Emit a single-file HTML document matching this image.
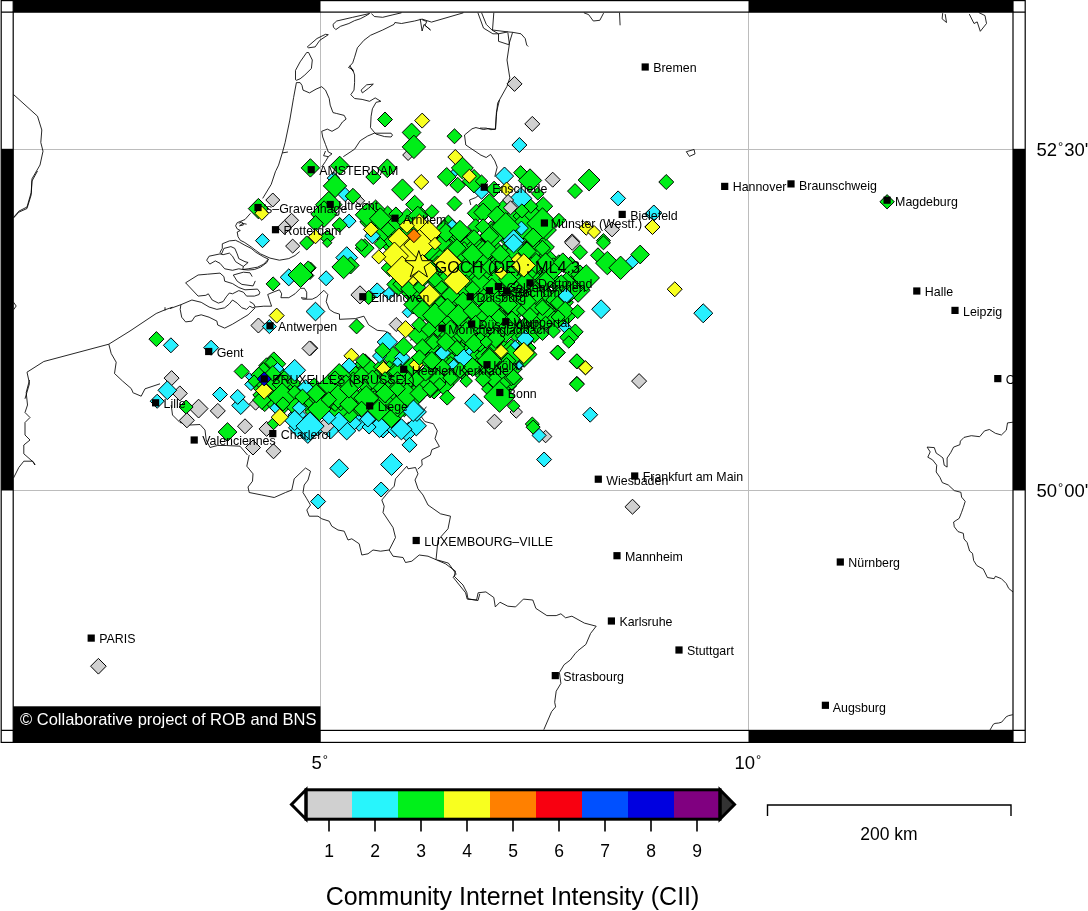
<!DOCTYPE html>
<html><head><meta charset="utf-8"><title>Community Internet Intensity</title>
<style>
html,body{margin:0;padding:0;background:#fff;}
body{width:1088px;height:911px;overflow:hidden;font-family:"Liberation Sans",sans-serif;}
svg{display:block}
text{font-family:"Liberation Sans",sans-serif;fill:#000}
.c{font-size:12.4px}
.b{fill:none;stroke:#000;stroke-width:0.85;stroke-linejoin:round}
.d{stroke:#000;stroke-width:1}
.ax{font-size:18.5px}
</style></head><body>
<svg width="1088" height="911" viewBox="0 0 1088 911">
<rect width="1088" height="911" fill="#fff"/>
<defs><clipPath id="m"><rect x="13.2" y="12.1" width="999.8" height="718.3"/></clipPath></defs>

<g stroke="#bcbcbc" stroke-width="1" fill="none"><path d="M320.5 12V730.4M748.5 12V730.4M13 149.5H1013M13 490.5H1013"/></g>
<g clip-path="url(#m)">
<g class="b">
<path d="M13.5 94.5 37.5 116.2 41.8 130.0 40.8 142.5 43.0 151.2 40.0 165.0 32.0 178.8 31.2 192.5 27.0 207.0 18.8 211.2 13.5 217.5"/>
<path d="M296.4 82.6 293.6 97.6 289.8 120.1 285.1 142.6 282.3 152.9 278.6 165.1 275.8 170.9"/>
<path d="M282.3 152.9 287.9 152.0"/>
<path d="M296.4 82.6 300.1 82.6 302.0 85.4 303.0 90.1 309.5 92.9 316.1 89.1 321.7 86.7 325.5 90.1 329.2 98.5 330.2 105.1 333.0 112.6 336.7 113.5 344.2 115.4 346.1 119.1 342.4 122.0 338.6 127.6 332.0 131.3 327.3 129.1 321.7 131.3 322.7 137.0 325.5 144.5 328.3 152.0 332.0 153.8 328.3 156.7 323.6 155.7 325.5 151.0"/>
<path d="M328.3 156.7 325.5 161.4 321.7 167.0"/>
<path d="M343.3 156.7 354.6 149.2 360.2 140.7 367.7 136.0 374.3 133.2 391.1 133.2 392.5 135.1 391.1 137.0 384.6 136.6 376.1 134.1 374.3 132.3 370.5 127.6 371.1 116.3 372.4 108.8 376.1 102.3 380.8 101.3 375.2 97.9 369.6 101.3 362.1 99.4 354.6 98.5 350.8 94.7 354.0 90.1 354.6 82.6 354.6 75.0 352.7 69.4 348.5 67.5 352.7 62.9 354.6 57.2 357.4 47.8 363.9 40.3 370.5 35.3 382.7 30.0 394.0 24.4 394.9 22.5 401.5 23.5 414.6 21.0 422.1 19.1 431.5 22.1 463.4 12.8"/>
<path d="M420.2 18.8 422.1 31.0 424.0 24.4 430.5 30.0 424.9 25.3 426.8 21.6 422.1 19.7"/>
<path d="M349.9 65.7 353.1 71.3 350.8 67.9"/>
<path d="M361.1 90.1 366.7 84.8 373.3 84.1 368.6 88.2 362.4 92.9Z"/>
<path d="M295.5 79.7 295.5 70.4 300.1 61.9 306.7 52.5 308.6 52.5 312.3 60.0 311.4 68.5 304.8 75.0 300.1 78.8 296.4 80.3Z"/>
<path d="M307.3 46.9 317.0 38.5 325.5 34.3 328.3 34.7 319.8 40.3 315.2 46.9 308.6 47.8Z"/>
<path d="M333.0 24.4 336.7 21.0 352.7 17.3 369.6 13.5 365.8 15.9 360.2 18.8 354.6 20.6 348.9 23.5 340.5 26.3 335.8 29.6 333.5 27.2Z"/>
<path d="M371.4 13.5 374.3 16.5 382.7 17.3 392.1 15.0 401.5 12.8"/>
<path d="M477.9 12.8 483.5 28.1 492.9 33.8 498.5 33.8 507.9 31.9 512.6 32.3 521.0 33.8 525.2 38.5 526.7 45.0 528.2 46.5"/>
<path d="M481.6 12.8 486.3 24.4 491.9 30.0 498.5 33.8"/>
<path d="M493.8 12.8 492.5 30.0 507.9 31.9"/>
<path d="M498.5 33.8 498.5 41.3 508.8 44.7 512.6 32.3"/>
<path d="M507.9 32.8 509.4 44.1 507.0 60.0 509.8 77.9 507.0 86.3 497.6 103.2 496.3 116.3 495.3 129.5 489.1 128.5 483.5 129.5 476.0 127.6"/>
<path d="M583.9 12.8 588.6 14.6 593.3 21.0 599.8 20.3 603.6 13.1"/>
<path d="M619.5 12.8 620.1 25.3"/>
<path d="M686.3 151.7 694.1 149.5 695.0 153.9 689.4 156.4Z"/>
<path d="M942.7 13.1 942.1 18.8 946.5 22.5 945.2 14.1"/>
<path d="M969.3 14.1 974.0 23.5 977.2 21.9 980.3 31.3 986.5 23.5 985.0 15.6 978.7 12.5"/>
<path d="M37.5 171.0 32.0 181.0 31.2 194.8 27.0 208.5 18.8 212.2 13.5 218.0"/>
<path d="M13.5 302.2 16.2 306.0 13.5 309.8"/>
<path d="M25.0 398.8 29.5 383.5 27.0 372.2 43.8 361.5 108.8 344.2 130.0 331.0 156.2 313.5 165.0 309.8 172.5 307.2"/>
<path d="M165.0 307.2 165.0 310.5"/>
<path d="M108.8 344.2 111.2 353.5 116.2 362.2 114.5 373.5 122.5 381.0 131.2 388.5 132.8 392.0"/>
<path d="M250.5 213.3 245.0 219.5 241.1 221.1 237.2 222.7 235.6 225.8 237.2 228.9 240.3 230.5 237.2 232.0 238.0 236.7 240.3 240.3 244.2 242.2 251.2 246.9 255.2 250.0 260.6 253.9 270.0 258.1 279.4 260.2 288.8 258.6 295.0 255.5 299.7 251.6"/>
<path d="M238.8 223.4 241.9 221.9 243.4 225.0 239.5 225.8 242.7 223.4 246.6 224.2"/>
<path d="M268.4 259.1 263.8 257.0 255.9 252.3 251.2 248.4 245.0 245.3 239.5 242.2 235.6 240.3 229.4 240.9 222.3 243.8 222.3 248.4 220.0 252.3 221.6 253.9 223.9 248.4 230.9 246.6 234.8 248.4 237.2 253.9 238.8 258.6 245.0 261.7 248.1 262.5 243.4 266.4 242.7 269.5 248.1 268.8 257.5 267.2 263.8 264.1 268.4 259.1 266.9 262.5 260.6 267.2 254.4 269.5 248.1 270.0 242.7 269.5"/>
<path d="M243.4 266.4 241.9 265.6 235.6 261.7 232.5 256.2 229.4 253.1 223.1 254.7 220.0 253.9 209.1 256.2 206.7 260.2 209.8 264.1 215.3 260.9 220.0 263.3 224.7 268.8 232.5 270.3 238.8 268.8 242.7 269.5"/>
<path d="M252.2 276.6 250.0 272.8 243.4 272.2 233.3 275.0 237.2 281.2 241.9 284.4 253.1 285.9 255.3 280.9"/>
<path d="M185.6 282.8 198.1 275.0 207.5 274.2 220.0 273.1 223.9 276.6 224.7 281.2 232.5 283.6 238.8 287.5 245.0 289.8 257.5 289.1 259.8 292.2 259.1 294.5 254.4 296.1 246.6 296.1 243.4 292.2 238.8 290.6 232.5 293.8 229.4 293.0 226.2 296.9 223.1 301.6 218.4 303.1 212.2 300.0 208.3 293.8 205.9 295.3 198.1 296.1Z"/>
<path d="M170.0 308.6 180.9 304.7 191.9 300.0 201.2 302.3 209.1 307.0 216.9 309.4 224.7 307.8 229.4 303.9 232.5 300.0 237.2 303.1 241.9 307.8 246.6 309.4 249.7 306.2 252.8 307.8 255.2 307.0 253.6 303.9 249.7 301.6"/>
<path d="M180.9 304.7 180.2 309.4 181.7 317.2 185.6 321.9 191.9 321.1 195.0 316.4 201.2 314.8 209.1 317.2 216.9 321.1 217.7 325.0 224.7 328.1 232.5 324.2 240.3 319.5 248.1 314.8 255.2 307.8"/>
<path d="M255.2 307.0 263.8 306.2 271.6 306.2 270.0 301.6 267.7 294.5 273.1 292.2 279.4 289.8 281.7 293.8 280.9 297.7 288.8 297.7 295.0 293.8 300.5 288.3 304.4 288.3 306.7 292.2 306.7 298.4 301.2 297.7 302.8 299.2 312.2 299.2 316.9 296.9 323.9 290.3 327.8 294.5 326.2 301.6 329.4 309.4 334.1 312.5 339.5 314.1 339.5 319.5"/>
<path d="M275.6 171.1 271.2 184.4 262.7 198.4"/>
<path d="M499.5 100.0 496.4 112.5 495.6 128.9 490.9 129.7 486.2 128.1 480.0 128.1"/>
<path d="M480.0 154.7 486.2 157.5 490.6 154.4 494.8 160.9 497.2 167.2 494.8 176.6"/>
<path d="M426.4 406.7 420.2 415.2 424.8 421.5 433.4 423.8 437.3 430.9 435.0 438.7 439.4 446.5 431.9 449.6 430.3 455.1 421.7 459.8 422.2 465.2 417.8 469.2"/>
<path d="M249.2 455.0 246.8 466.2 253.0 473.8 252.5 481.2 248.0 487.0 249.2 492.5 261.8 495.0 274.2 497.5 285.5 492.5 291.8 490.0 294.2 478.8 305.5 468.0 310.5 471.2 308.0 480.0 304.2 485.0 303.0 492.5 306.8 498.8 310.5 505.0 306.8 510.0 309.2 516.2 318.0 516.2 321.8 518.8 329.2 521.2 331.8 526.2 338.0 530.0 344.2 531.2 348.0 540.0 351.8 538.8 359.2 543.8 361.8 555.0 368.0 553.8 373.0 550.0 380.5 551.2 389.2 550.0 393.0 556.2 403.0 557.5 405.5 562.5 411.8 561.2 419.2 555.0 428.0 556.2 436.8 560.0 445.5 563.8 455.5 571.2 454.2 576.2 463.0 585.0 466.8 592.5 468.0 598.8 478.0 600.5 479.8 593.8"/>
<path d="M389.2 550.0 395.5 537.5 393.0 527.5 388.0 520.0 383.0 512.5 384.2 506.2 381.8 500.0 388.0 492.5 394.2 486.2 395.5 478.8 406.8 466.2 408.0 468.8 415.5 467.5 418.0 473.8 415.0 480.0 418.0 488.8 423.0 495.0 428.0 505.0 440.5 513.8 450.5 516.2 448.0 528.8 438.0 540.0 436.0 560.0"/>
<path d="M29.5 380.0 26.2 392.5 27.5 405.0 25.0 412.5 30.0 417.5 25.0 422.5 25.0 435.0 30.0 440.0 23.8 445.0 23.8 453.8 33.8 462.5 35.0 465.0 32.5 461.2 23.8 461.2 18.8 467.5 13.5 478.0"/>
<path d="M132.5 392.5 141.2 396.2 145.0 388.8 160.0 383.8"/>
<path d="M171.2 405.0 172.5 415.0 180.0 422.5 190.0 425.0 200.0 424.5 205.0 430.0 206.2 440.0 210.0 447.5 217.5 445.5 226.2 445.5 240.0 446.2 247.5 455.0"/>
<path d="M476.6 600.0 478.1 592.8 485.9 591.9 493.8 597.5 495.3 606.9 500.0 602.2 507.8 606.2 515.6 606.9 523.4 599.1 532.8 600.0 535.9 608.4 546.9 615.6 556.2 615.6 560.9 613.8 565.6 617.8 571.9 616.2 584.4 623.1 596.2 626.2 590.6 633.4 585.9 644.4 578.1 650.6 575.0 653.8 570.3 660.0 564.1 664.7 559.4 672.5 560.9 683.4 556.2 691.2 554.7 702.2 555.6 706.9 551.6 711.6 543.8 729.7"/>
<path d="M437.5 560.0 448.4 563.1 456.2 574.1 453.1 577.2 465.6 592.8 467.2 599.1 476.6 600.0"/>
<path d="M1013.0 422.2 1007.5 422.9 1006.3 430.2 1001.4 435.0 995.4 433.3 989.4 429.5 984.5 430.9 979.7 436.7 971.3 435.7 964.0 437.4 960.4 441.1 959.9 444.7 953.6 447.1 950.7 452.7 947.1 458.0 947.1 467.1 944.2 465.2 943.0 458.0 939.9 455.6 936.2 453.1 934.3 447.6 927.1 447.1 930.2 451.9 927.8 457.2 932.6 459.9 936.7 465.2 936.2 472.0 939.9 477.3 942.3 482.6 948.3 485.0 954.3 490.6 960.9 492.3 961.6 497.1 965.2 501.4 963.3 507.5 961.6 512.3 959.2 518.4 953.6 522.0 954.3 526.8 958.0 531.6 963.3 533.3 964.0 538.9 967.1 542.5 969.6 551.0 972.5 553.4 973.7 560.6 976.8 565.5 983.3 569.1 987.4 577.5 994.2 578.7 995.4 576.3 1001.4 578.7 1006.3 583.6 1008.7 588.4 1013.0 592.0"/>
<path d="M990.0 730.0 991.7 727.1 993.3 724.3 995.0 723.4 998.7 723.0 1001.6 722.2 1004.1 719.3 1006.2 716.8 1008.7 715.6 1012.8 714.7"/>
<path d="M476.0 127.5 472.0 128.8 464.5 135.0 465.8 145.0 480.0 154.5"/>
<path d="M482.0 192.5 475.8 197.5 469.5 200.0 470.8 205.0"/>
<path d="M339.7 319.3 355.3 318.6 363.9 316.2 368.6 324.8 377.2 330.3 385.0 331.1 391.2 334.2"/>
<path d="M410.0 340.4 419.4 335.4 422.5 338.9"/>
<path d="M394.4 349.8 396.7 355.3"/>
</g>
<g class="d">
<path fill="#28f0ff" d="M351.4 423.6L359.1 416.0L366.8 423.6L359.1 431.3Z"/>
<path fill="#28f0ff" d="M375.3 430.3L383.0 422.5L390.8 430.3L383.0 438.0Z"/>
<path fill="#28f0ff" d="M367.1 423.7L375.4 415.5L383.6 423.7L375.4 432.0Z"/>
<path fill="#28f0ff" d="M300.3 435.9L307.8 428.4L315.3 435.9L307.8 443.4Z"/>
<path fill="#28f0ff" d="M334.2 425.1L342.8 416.4L351.5 425.1L342.8 433.8Z"/>
<path fill="#28f0ff" d="M320.3 428.3L330.8 417.8L341.3 428.3L330.8 438.8Z"/>
<path fill="#28f0ff" d="M400.5 430.2L408.8 421.9L417.1 430.2L408.8 438.5Z"/>
<path fill="#28f0ff" d="M345.4 417.8L353.6 409.5L361.8 417.8L353.6 426.0Z"/>
<path fill="#28f0ff" d="M310.1 428.4L317.8 420.8L325.5 428.4L317.8 436.1Z"/>
<path fill="#28f0ff" d="M384.4 427.4L394.6 417.3L404.7 427.4L394.6 437.6Z"/>
<path fill="#28f0ff" d="M406.1 425.8L416.3 415.6L426.4 425.8L416.3 435.9Z"/>
<path fill="#28f0ff" d="M332.4 415.6L340.8 407.2L349.2 415.6L340.8 424.0Z"/>
<path fill="#28f0ff" d="M399.5 434.1L407.2 426.4L414.9 434.1L407.2 441.8Z"/>
<path fill="#28f0ff" d="M343.6 422.8L352.5 413.9L361.4 422.8L352.5 431.7Z"/>
<path fill="#28f0ff" d="M296.3 430.0L306.6 419.7L316.9 430.0L306.6 440.3Z"/>
<path fill="#28f0ff" d="M407.4 411.9L416.9 402.4L426.4 411.9L416.9 421.4Z"/>
<path fill="#28f0ff" d="M288.5 427.8L297.7 418.6L307.0 427.8L297.7 437.1Z"/>
<path fill="#28f0ff" d="M288.1 414.9L297.2 405.7L306.4 414.9L297.2 424.0Z"/>
<path fill="#00ee18" d="M284.5 384.4L293.4 375.6L302.2 384.4L293.4 393.3Z"/>
<path fill="#00ee18" d="M317.2 396.0L325.3 387.8L333.5 396.0L325.3 404.1Z"/>
<path fill="#00ee18" d="M352.5 396.4L361.6 387.3L370.6 396.4L361.6 405.5Z"/>
<path fill="#00ee18" d="M328.4 392.4L340.1 380.7L351.8 392.4L340.1 404.2Z"/>
<path fill="#00ee18" d="M261.5 397.4L270.2 388.7L279.0 397.4L270.2 406.1Z"/>
<path fill="#00ee18" d="M342.1 403.0L353.2 391.9L364.4 403.0L353.2 414.1Z"/>
<path fill="#00ee18" d="M348.7 372.1L359.2 361.7L369.7 372.1L359.2 382.6Z"/>
<path fill="#00ee18" d="M400.5 398.1L412.4 386.2L424.2 398.1L412.4 410.0Z"/>
<path fill="#00ee18" d="M372.7 414.8L384.0 403.6L395.2 414.8L384.0 426.0Z"/>
<path fill="#00ee18" d="M254.2 401.1L264.7 390.6L275.2 401.1L264.7 411.6Z"/>
<path fill="#00ee18" d="M354.6 364.5L365.1 353.9L375.7 364.5L365.1 375.0Z"/>
<path fill="#00ee18" d="M340.1 413.1L350.0 403.3L359.8 413.1L350.0 422.9Z"/>
<path fill="#00ee18" d="M392.1 364.7L402.7 354.1L413.3 364.7L402.7 375.3Z"/>
<path fill="#00ee18" d="M278.3 393.1L288.7 382.7L299.1 393.1L288.7 403.5Z"/>
<path fill="#00ee18" d="M272.7 377.1L282.0 367.8L291.3 377.1L282.0 386.4Z"/>
<path fill="#00ee18" d="M298.4 399.0L308.1 389.3L317.8 399.0L308.1 408.6Z"/>
<path fill="#00ee18" d="M344.2 395.2L353.0 386.4L361.9 395.2L353.0 404.1Z"/>
<path fill="#00ee18" d="M411.4 388.2L420.2 379.5L428.9 388.2L420.2 397.0Z"/>
<path fill="#00ee18" d="M381.9 357.3L392.9 346.3L403.9 357.3L392.9 368.3Z"/>
<path fill="#00ee18" d="M392.6 396.2L403.3 385.6L413.9 396.2L403.3 406.8Z"/>
<path fill="#00ee18" d="M419.6 373.2L429.6 363.2L439.6 373.2L429.6 383.3Z"/>
<path fill="#00ee18" d="M358.2 371.5L369.0 360.8L379.7 371.5L369.0 382.2Z"/>
<path fill="#00ee18" d="M411.5 392.7L420.5 383.8L429.4 392.7L420.5 401.6Z"/>
<path fill="#00ee18" d="M326.1 378.0L334.6 369.5L343.1 378.0L334.6 386.5Z"/>
<path fill="#00ee18" d="M253.3 388.4L265.0 376.7L276.7 388.4L265.0 400.1Z"/>
<path fill="#00ee18" d="M357.8 368.6L368.7 357.7L379.6 368.6L368.7 379.5Z"/>
<path fill="#00ee18" d="M361.4 381.7L370.9 372.3L380.3 381.7L370.9 391.2Z"/>
<path fill="#00ee18" d="M363.5 404.2L372.7 395.0L381.9 404.2L372.7 413.4Z"/>
<path fill="#00ee18" d="M410.2 378.8L420.6 368.4L431.0 378.8L420.6 389.2Z"/>
<path fill="#00ee18" d="M303.6 388.5L314.2 377.9L324.8 388.5L314.2 399.1Z"/>
<path fill="#00ee18" d="M382.3 393.0L392.1 383.2L401.9 393.0L392.1 402.8Z"/>
<path fill="#00ee18" d="M250.3 378.9L259.1 370.1L267.9 378.9L259.1 387.7Z"/>
<path fill="#00ee18" d="M265.4 382.6L275.1 372.8L284.9 382.6L275.1 392.4Z"/>
<path fill="#00ee18" d="M371.1 374.9L382.2 363.8L393.4 374.9L382.2 386.0Z"/>
<path fill="#00ee18" d="M298.7 403.9L308.0 394.6L317.3 403.9L308.0 413.2Z"/>
<path fill="#00ee18" d="M266.1 371.2L275.0 362.4L283.8 371.2L275.0 380.1Z"/>
<path fill="#00ee18" d="M366.2 395.0L378.1 383.1L390.1 395.0L378.1 407.0Z"/>
<path fill="#00ee18" d="M422.6 387.6L434.0 376.2L445.4 387.6L434.0 399.0Z"/>
<path fill="#00ee18" d="M393.2 405.8L404.3 394.7L415.3 405.8L404.3 416.8Z"/>
<path fill="#00ee18" d="M277.1 393.2L285.2 385.1L293.2 393.2L285.2 401.2Z"/>
<path fill="#00ee18" d="M343.1 375.9L354.2 364.8L365.3 375.9L354.2 387.0Z"/>
<path fill="#00ee18" d="M272.1 384.1L281.3 374.9L290.6 384.1L281.3 393.4Z"/>
<path fill="#00ee18" d="M328.3 411.2L338.4 401.0L348.5 411.2L338.4 421.3Z"/>
<path fill="#00ee18" d="M330.1 388.1L338.8 379.4L347.4 388.1L338.8 396.7Z"/>
<path fill="#00ee18" d="M365.1 411.7L375.2 401.6L385.3 411.7L375.2 421.8Z"/>
<path fill="#00ee18" d="M373.4 366.9L381.7 358.6L390.0 366.9L381.7 375.3Z"/>
<path fill="#00ee18" d="M266.8 404.4L275.0 396.2L283.3 404.4L275.0 412.7Z"/>
<path fill="#00ee18" d="M289.3 402.5L298.4 393.4L307.4 402.5L298.4 411.6Z"/>
<path fill="#00ee18" d="M305.0 411.7L313.1 403.5L321.3 411.7L313.1 419.8Z"/>
<path fill="#00ee18" d="M356.3 384.2L366.0 374.5L375.6 384.2L366.0 393.9Z"/>
<path fill="#00ee18" d="M381.2 368.9L389.3 360.8L397.4 368.9L389.3 377.1Z"/>
<path fill="#00ee18" d="M400.0 378.2L408.2 369.9L416.5 378.2L408.2 386.4Z"/>
<path fill="#00ee18" d="M350.2 407.5L358.7 399.0L367.3 407.5L358.7 416.1Z"/>
<path fill="#00ee18" d="M401.5 388.0L409.8 379.7L418.2 388.0L409.8 396.3Z"/>
<path fill="#00ee18" d="M383.3 402.2L394.8 390.7L406.4 402.2L394.8 413.8Z"/>
<path fill="#00ee18" d="M366.3 399.0L374.4 390.8L382.6 399.0L374.4 407.1Z"/>
<path fill="#00ee18" d="M273.3 404.0L283.3 394.0L293.3 404.0L283.3 414.1Z"/>
<path fill="#00ee18" d="M285.0 405.8L295.8 395.0L306.5 405.8L295.8 416.6Z"/>
<path fill="#00ee18" d="M342.5 382.8L353.3 372.0L364.2 382.8L353.3 393.6Z"/>
<path fill="#00ee18" d="M331.6 401.7L340.7 392.6L349.8 401.7L340.7 410.8Z"/>
<path fill="#00ee18" d="M381.9 385.1L391.1 376.0L400.3 385.1L391.1 394.3Z"/>
<path fill="#00ee18" d="M321.8 398.5L333.7 386.6L345.6 398.5L333.7 410.4Z"/>
<path fill="#00ee18" d="M383.7 412.9L394.8 401.9L405.8 412.9L394.8 423.9Z"/>
<path fill="#00ee18" d="M371.2 401.7L383.0 389.8L394.9 401.7L383.0 413.5Z"/>
<path fill="#00ee18" d="M318.1 384.7L329.1 373.8L340.1 384.7L329.1 395.7Z"/>
<path fill="#00ee18" d="M327.7 375.1L339.2 363.6L350.7 375.1L339.2 386.6Z"/>
<path fill="#00ee18" d="M394.0 381.9L405.7 370.2L417.4 381.9L405.7 393.6Z"/>
<path fill="#00ee18" d="M326.3 402.7L335.1 394.0L343.8 402.7L335.1 411.5Z"/>
<path fill="#00ee18" d="M403.0 365.8L412.9 355.9L422.8 365.8L412.9 375.7Z"/>
<path fill="#00ee18" d="M317.7 403.6L325.9 395.5L334.0 403.6L325.9 411.7Z"/>
<path fill="#00ee18" d="M261.9 363.8L273.8 351.9L285.7 363.8L273.8 375.7Z"/>
<path fill="#00ee18" d="M386.3 371.5L395.1 362.7L403.8 371.5L395.1 380.2Z"/>
<path fill="#00ee18" d="M252.8 395.0L262.1 385.6L271.4 395.0L262.1 404.3Z"/>
<path fill="#00ee18" d="M369.9 384.7L380.7 373.9L391.5 384.7L380.7 395.5Z"/>
<path fill="#00ee18" d="M291.3 393.1L299.8 384.6L308.3 393.1L299.8 401.6Z"/>
<path fill="#00ee18" d="M388.5 371.8L398.3 362.0L408.1 371.8L398.3 381.6Z"/>
<path fill="#00ee18" d="M433.5 384.9L443.9 374.6L454.2 384.9L443.9 395.3Z"/>
<path fill="#00ee18" d="M472.3 243.2L485.0 230.5L497.6 243.2L485.0 255.9Z"/>
<path fill="#00ee18" d="M463.3 319.4L474.5 308.2L485.6 319.4L474.5 330.5Z"/>
<path fill="#00ee18" d="M527.8 273.9L536.7 265.0L545.6 273.9L536.7 282.8Z"/>
<path fill="#00ee18" d="M417.5 236.7L427.9 226.3L438.3 236.7L427.9 247.1Z"/>
<path fill="#00ee18" d="M544.5 280.4L553.4 271.5L562.3 280.4L553.4 289.3Z"/>
<path fill="#00ee18" d="M469.8 289.5L480.5 278.7L491.3 289.5L480.5 300.3Z"/>
<path fill="#00ee18" d="M441.0 293.7L450.2 284.4L459.5 293.7L450.2 302.9Z"/>
<path fill="#00ee18" d="M539.4 259.6L549.1 249.9L558.7 259.6L549.1 269.2Z"/>
<path fill="#00ee18" d="M505.8 288.7L517.8 276.7L529.9 288.7L517.8 300.7Z"/>
<path fill="#00ee18" d="M388.2 272.0L397.5 262.7L406.9 272.0L397.5 281.3Z"/>
<path fill="#00ee18" d="M512.0 348.1L524.0 336.0L536.1 348.1L524.0 360.1Z"/>
<path fill="#00ee18" d="M459.1 242.3L471.6 229.9L484.1 242.3L471.6 254.8Z"/>
<path fill="#00ee18" d="M491.6 385.9L504.1 373.3L516.6 385.9L504.1 398.4Z"/>
<path fill="#00ee18" d="M494.6 253.1L503.9 243.8L513.3 253.1L503.9 262.4Z"/>
<path fill="#00ee18" d="M456.9 291.5L469.5 278.9L482.1 291.5L469.5 304.2Z"/>
<path fill="#00ee18" d="M471.8 372.2L480.9 363.0L490.0 372.2L480.9 381.3Z"/>
<path fill="#00ee18" d="M448.8 300.8L457.8 291.8L466.8 300.8L457.8 309.8Z"/>
<path fill="#00ee18" d="M470.9 257.7L483.1 245.6L495.2 257.7L483.1 269.9Z"/>
<path fill="#00ee18" d="M493.2 280.4L504.7 268.9L516.2 280.4L504.7 291.8Z"/>
<path fill="#00ee18" d="M476.1 364.1L485.5 354.6L495.0 364.1L485.5 373.5Z"/>
<path fill="#00ee18" d="M393.0 245.8L405.6 233.2L418.2 245.8L405.6 258.5Z"/>
<path fill="#00ee18" d="M492.4 312.0L504.5 299.9L516.5 312.0L504.5 324.0Z"/>
<path fill="#00ee18" d="M460.2 299.7L471.3 288.6L482.4 299.7L471.3 310.8Z"/>
<path fill="#00ee18" d="M486.7 314.3L496.4 304.6L506.1 314.3L496.4 324.0Z"/>
<path fill="#00ee18" d="M460.5 310.3L469.2 301.6L477.9 310.3L469.2 318.9Z"/>
<path fill="#00ee18" d="M530.6 247.0L542.5 235.1L554.4 247.0L542.5 258.8Z"/>
<path fill="#00ee18" d="M503.3 310.5L514.7 299.1L526.1 310.5L514.7 321.9Z"/>
<path fill="#00ee18" d="M454.3 277.1L465.3 266.1L476.4 277.1L465.3 288.2Z"/>
<path fill="#00ee18" d="M405.4 251.6L418.0 239.0L430.5 251.6L418.0 264.1Z"/>
<path fill="#00ee18" d="M490.6 356.0L503.2 343.3L515.9 356.0L503.2 368.7Z"/>
<path fill="#00ee18" d="M424.7 378.3L437.3 365.7L449.9 378.3L437.3 390.8Z"/>
<path fill="#00ee18" d="M487.8 331.7L497.2 322.2L506.7 331.7L497.2 341.1Z"/>
<path fill="#00ee18" d="M545.1 315.7L555.0 305.7L565.0 315.7L555.0 325.7Z"/>
<path fill="#00ee18" d="M566.8 277.5L578.6 265.7L590.4 277.5L578.6 289.3Z"/>
<path fill="#00ee18" d="M537.7 294.7L546.7 285.7L555.6 294.7L546.7 303.7Z"/>
<path fill="#00ee18" d="M439.4 257.9L449.0 248.3L458.6 257.9L449.0 267.5Z"/>
<path fill="#00ee18" d="M434.6 295.1L443.4 286.3L452.2 295.1L443.4 303.9Z"/>
<path fill="#00ee18" d="M502.1 368.9L512.2 358.8L522.3 368.9L512.2 379.0Z"/>
<path fill="#00ee18" d="M503.6 330.0L515.6 317.9L527.7 330.0L515.6 342.0Z"/>
<path fill="#00ee18" d="M566.2 290.3L578.1 278.4L590.1 290.3L578.1 302.3Z"/>
<path fill="#00ee18" d="M516.6 325.6L527.9 314.3L539.3 325.6L527.9 337.0Z"/>
<path fill="#00ee18" d="M484.4 319.4L496.8 306.9L509.2 319.4L496.8 331.8Z"/>
<path fill="#00ee18" d="M472.4 299.5L483.7 288.2L495.1 299.5L483.7 310.8Z"/>
<path fill="#00ee18" d="M485.8 264.1L494.8 255.2L503.7 264.1L494.8 273.1Z"/>
<path fill="#00ee18" d="M559.9 267.2L570.6 256.5L581.3 267.2L570.6 277.9Z"/>
<path fill="#00ee18" d="M512.5 234.8L522.2 225.1L532.0 234.8L522.2 244.6Z"/>
<path fill="#00ee18" d="M430.3 247.5L442.0 235.8L453.7 247.5L442.0 259.2Z"/>
<path fill="#00ee18" d="M392.9 251.7L401.6 243.1L410.3 251.7L401.6 260.4Z"/>
<path fill="#00ee18" d="M489.6 348.0L501.4 336.2L513.2 348.0L501.4 359.8Z"/>
<path fill="#00ee18" d="M503.6 305.1L515.7 293.1L527.7 305.1L515.7 317.1Z"/>
<path fill="#00ee18" d="M527.2 283.4L537.7 272.8L548.3 283.4L537.7 293.9Z"/>
<path fill="#00ee18" d="M508.2 256.1L518.0 246.3L527.8 256.1L518.0 266.0Z"/>
<path fill="#00ee18" d="M508.9 257.4L521.8 244.5L534.7 257.4L521.8 270.3Z"/>
<path fill="#00ee18" d="M494.6 235.1L506.1 223.6L517.6 235.1L506.1 246.6Z"/>
<path fill="#00ee18" d="M449.9 341.4L459.8 331.6L469.7 341.4L459.8 351.3Z"/>
<path fill="#00ee18" d="M417.5 262.9L427.3 253.0L437.1 262.9L427.3 272.7Z"/>
<path fill="#00ee18" d="M515.6 300.0L524.2 291.5L532.7 300.0L524.2 308.6Z"/>
<path fill="#00ee18" d="M407.5 242.8L418.3 232.1L429.0 242.8L418.3 253.5Z"/>
<path fill="#00ee18" d="M482.1 247.4L492.5 237.0L503.0 247.4L492.5 257.8Z"/>
<path fill="#00ee18" d="M440.9 268.7L450.7 258.8L460.6 268.7L450.7 278.6Z"/>
<path fill="#00ee18" d="M535.6 230.0L546.0 219.6L556.4 230.0L546.0 240.4Z"/>
<path fill="#00ee18" d="M552.8 302.3L563.2 291.9L573.5 302.3L563.2 312.6Z"/>
<path fill="#00ee18" d="M517.3 250.4L527.3 240.4L537.3 250.4L527.3 260.4Z"/>
<path fill="#00ee18" d="M489.5 228.2L502.3 215.4L515.1 228.2L502.3 241.0Z"/>
<path fill="#00ee18" d="M492.9 299.1L501.8 290.1L510.8 299.1L501.8 308.0Z"/>
<path fill="#00ee18" d="M401.8 230.4L413.2 218.9L424.6 230.4L413.2 241.8Z"/>
<path fill="#00ee18" d="M462.4 277.1L474.7 264.8L486.9 277.1L474.7 289.4Z"/>
<path fill="#00ee18" d="M411.4 266.8L420.4 257.9L429.4 266.8L420.4 275.8Z"/>
<path fill="#00ee18" d="M418.1 352.2L429.8 340.5L441.6 352.2L429.8 364.0Z"/>
<path fill="#00ee18" d="M391.2 259.6L400.8 250.0L410.3 259.6L400.8 269.1Z"/>
<path fill="#00ee18" d="M521.9 310.5L531.4 300.9L541.0 310.5L531.4 320.0Z"/>
<path fill="#00ee18" d="M381.5 245.6L391.8 235.2L402.2 245.6L391.8 255.9Z"/>
<path fill="#00ee18" d="M486.9 268.0L495.4 259.5L503.9 268.0L495.4 276.5Z"/>
<path fill="#00ee18" d="M448.0 263.2L459.1 252.1L470.2 263.2L459.1 274.3Z"/>
<path fill="#00ee18" d="M454.6 371.4L463.1 362.9L471.7 371.4L463.1 380.0Z"/>
<path fill="#00ee18" d="M436.1 335.7L449.0 322.8L461.9 335.7L449.0 348.6Z"/>
<path fill="#00ee18" d="M434.8 314.3L443.4 305.8L451.9 314.3L443.4 322.8Z"/>
<path fill="#00ee18" d="M466.7 365.2L476.2 355.7L485.7 365.2L476.2 374.7Z"/>
<path fill="#00ee18" d="M472.0 336.3L481.7 326.6L491.4 336.3L481.7 346.0Z"/>
<path fill="#00ee18" d="M429.4 346.3L440.5 335.2L451.6 346.3L440.5 357.4Z"/>
<path fill="#00ee18" d="M495.2 269.9L507.4 257.7L519.6 269.9L507.4 282.1Z"/>
<path fill="#00ee18" d="M493.1 221.9L502.1 212.9L511.2 221.9L502.1 231.0Z"/>
<path fill="#00ee18" d="M515.3 335.9L526.7 324.6L538.0 335.9L526.7 347.2Z"/>
<path fill="#00ee18" d="M385.8 221.4L396.5 210.7L407.3 221.4L396.5 232.1Z"/>
<path fill="#00ee18" d="M484.2 279.4L494.6 269.0L505.0 279.4L494.6 289.8Z"/>
<path fill="#00ee18" d="M419.6 361.3L429.3 351.5L439.0 361.3L429.3 371.0Z"/>
<path fill="#00ee18" d="M489.6 295.2L501.2 283.6L512.7 295.2L501.2 306.7Z"/>
<path fill="#00ee18" d="M410.6 262.9L422.1 251.4L433.6 262.9L422.1 274.4Z"/>
<path fill="#00ee18" d="M458.1 259.1L471.0 246.2L484.0 259.1L471.0 272.1Z"/>
<path fill="#00ee18" d="M549.9 263.7L558.8 254.8L567.8 263.7L558.8 272.7Z"/>
<path fill="#00ee18" d="M556.5 289.5L569.5 276.6L582.5 289.5L569.5 302.5Z"/>
<path fill="#00ee18" d="M464.3 330.8L475.0 320.1L485.7 330.8L475.0 341.6Z"/>
<path fill="#00ee18" d="M450.3 352.9L461.6 341.6L472.9 352.9L461.6 364.3Z"/>
<path fill="#00ee18" d="M534.5 301.5L547.2 288.8L559.9 301.5L547.2 314.2Z"/>
<path fill="#00ee18" d="M437.0 226.4L448.4 215.1L459.7 226.4L448.4 237.8Z"/>
<path fill="#00ee18" d="M418.7 386.5L430.2 375.0L441.7 386.5L430.2 398.0Z"/>
<path fill="#00ee18" d="M386.8 284.4L398.1 273.1L409.3 284.4L398.1 295.7Z"/>
<path fill="#00ee18" d="M502.2 347.9L511.2 338.9L520.1 347.9L511.2 356.8Z"/>
<path fill="#00ee18" d="M417.0 379.1L429.3 366.8L441.7 379.1L429.3 391.4Z"/>
<path fill="#00ee18" d="M410.2 215.0L419.6 205.6L428.9 215.0L419.6 224.3Z"/>
<path fill="#00ee18" d="M528.6 226.9L537.2 218.3L545.8 226.9L537.2 235.5Z"/>
<path fill="#00ee18" d="M429.9 281.2L440.2 270.9L450.4 281.2L440.2 291.4Z"/>
<path fill="#00ee18" d="M405.4 280.2L417.7 267.9L430.0 280.2L417.7 292.5Z"/>
<path fill="#00ee18" d="M397.3 261.0L408.8 249.5L420.3 261.0L408.8 272.5Z"/>
<path fill="#00ee18" d="M437.7 236.6L450.6 223.7L463.5 236.6L450.6 249.5Z"/>
<path fill="#00ee18" d="M381.2 268.0L389.8 259.5L398.3 268.0L389.8 276.6Z"/>
<path fill="#00ee18" d="M400.2 278.1L412.2 266.1L424.3 278.1L412.2 290.2Z"/>
<path fill="#00ee18" d="M496.7 333.5L505.7 324.5L514.7 333.5L505.7 342.5Z"/>
<path fill="#00ee18" d="M368.3 216.3L379.3 205.3L390.3 216.3L379.3 227.3Z"/>
<path fill="#00ee18" d="M429.7 258.9L441.6 247.1L453.4 258.9L441.6 270.8Z"/>
<path fill="#00ee18" d="M417.1 230.9L426.6 221.3L436.2 230.9L426.6 240.4Z"/>
<path fill="#00ee18" d="M530.7 319.6L542.6 307.7L554.5 319.6L542.6 331.5Z"/>
<path fill="#00ee18" d="M425.1 295.0L434.3 285.8L443.6 295.0L434.3 304.2Z"/>
<path fill="#00ee18" d="M483.7 341.2L493.7 331.2L503.7 341.2L493.7 351.1Z"/>
<path fill="#00ee18" d="M465.0 346.9L474.2 337.7L483.4 346.9L474.2 356.1Z"/>
<path fill="#00ee18" d="M401.5 293.4L413.7 281.3L425.8 293.4L413.7 305.6Z"/>
<path fill="#00ee18" d="M524.0 332.7L534.3 322.4L544.6 332.7L534.3 342.9Z"/>
<path fill="#00ee18" d="M489.0 378.9L501.1 366.8L513.1 378.9L501.1 391.0Z"/>
<path fill="#00ee18" d="M536.3 269.4L547.0 258.6L557.8 269.4L547.0 280.2Z"/>
<path fill="#00ee18" d="M550.4 292.6L560.6 282.3L570.9 292.6L560.6 302.9Z"/>
<path fill="#00ee18" d="M492.4 211.0L505.1 198.2L517.8 211.0L505.1 223.7Z"/>
<path fill="#00ee18" d="M553.5 315.9L564.8 304.6L576.1 315.9L564.8 327.3Z"/>
<path fill="#00ee18" d="M457.1 353.8L469.1 341.8L481.1 353.8L469.1 365.8Z"/>
<path fill="#00ee18" d="M458.9 269.8L471.3 257.4L483.7 269.8L471.3 282.2Z"/>
<path fill="#00ee18" d="M482.6 229.3L491.2 220.8L499.7 229.3L491.2 237.9Z"/>
<path fill="#00ee18" d="M526.6 302.5L536.7 292.4L546.8 302.5L536.7 312.6Z"/>
<path fill="#00ee18" d="M419.2 336.5L428.1 327.6L437.0 336.5L428.1 345.5Z"/>
<path fill="#00ee18" d="M510.4 291.8L521.8 280.4L533.1 291.8L521.8 303.1Z"/>
<path fill="#00ee18" d="M435.2 330.7L443.7 322.2L452.2 330.7L443.7 339.2Z"/>
<path fill="#00ee18" d="M390.8 237.4L402.9 225.2L415.1 237.4L402.9 249.6Z"/>
<path fill="#00ee18" d="M534.3 280.8L543.3 271.8L552.3 280.8L543.3 289.8Z"/>
<path fill="#00ee18" d="M494.1 364.7L505.1 353.7L516.2 364.7L505.1 375.8Z"/>
<path fill="#00ee18" d="M525.2 242.8L534.3 233.8L543.3 242.8L534.3 251.9Z"/>
<path fill="#00ee18" d="M468.8 281.8L479.8 270.9L490.8 281.8L479.8 292.8Z"/>
<path fill="#00ee18" d="M452.0 324.1L463.6 312.5L475.3 324.1L463.6 335.8Z"/>
<path fill="#00ee18" d="M434.7 229.7L444.5 219.9L454.4 229.7L444.5 239.6Z"/>
<path fill="#00ee18" d="M453.2 289.6L465.3 277.4L477.5 289.6L465.3 301.8Z"/>
<path fill="#00ee18" d="M443.1 356.0L454.5 344.6L465.8 356.0L454.5 367.4Z"/>
<path fill="#00ee18" d="M511.2 354.4L524.1 341.5L537.0 354.4L524.1 367.3Z"/>
<path fill="#00ee18" d="M478.2 367.3L490.4 355.2L502.5 367.3L490.4 379.5Z"/>
<path fill="#00ee18" d="M422.6 346.0L431.9 336.8L441.1 346.0L431.9 355.3Z"/>
<path fill="#00ee18" d="M480.6 298.9L493.3 286.2L506.0 298.9L493.3 311.6Z"/>
<path fill="#00ee18" d="M417.1 303.0L427.6 292.5L438.0 303.0L427.6 313.4Z"/>
<path fill="#00ee18" d="M384.5 228.7L396.1 217.1L407.7 228.7L396.1 240.3Z"/>
<path fill="#00ee18" d="M454.5 312.1L464.0 302.6L473.5 312.1L464.0 321.6Z"/>
<path fill="#00ee18" d="M406.7 295.5L417.4 284.8L428.1 295.5L417.4 306.3Z"/>
<path fill="#00ee18" d="M394.2 221.4L407.1 208.4L420.1 221.4L407.1 234.4Z"/>
<path fill="#00ee18" d="M448.2 362.7L460.0 350.8L471.9 362.7L460.0 374.5Z"/>
<path fill="#00ee18" d="M502.1 219.1L514.5 206.7L526.9 219.1L514.5 231.5Z"/>
<path fill="#00ee18" d="M528.4 324.1L538.2 314.3L548.0 324.1L538.2 333.9Z"/>
<path fill="#00ee18" d="M452.8 253.0L464.1 241.6L475.5 253.0L464.1 264.4Z"/>
<path fill="#00ee18" d="M425.9 267.7L437.6 256.0L449.2 267.7L437.6 279.3Z"/>
<path fill="#00ee18" d="M491.5 262.7L503.8 250.4L516.1 262.7L503.8 275.0Z"/>
<path fill="#00ee18" d="M443.8 314.6L454.4 304.0L465.0 314.6L454.4 325.2Z"/>
<path fill="#00ee18" d="M454.8 268.9L465.8 257.9L476.9 268.9L465.8 280.0Z"/>
<path fill="#00ee18" d="M479.4 236.4L492.1 223.6L504.8 236.4L492.1 249.1Z"/>
<path fill="#00ee18" d="M423.8 278.3L433.3 268.9L442.7 278.3L433.3 287.8Z"/>
<path fill="#00ee18" d="M378.4 215.2L387.6 206.0L396.8 215.2L387.6 224.4Z"/>
<path fill="#00ee18" d="M503.4 319.7L512.0 311.1L520.7 319.7L512.0 328.4Z"/>
<path fill="#00ee18" d="M557.8 281.1L566.5 272.4L575.2 281.1L566.5 289.8Z"/>
<path fill="#00ee18" d="M513.0 216.1L522.6 206.5L532.2 216.1L522.6 225.7Z"/>
<path fill="#00ee18" d="M441.4 247.6L450.0 239.1L458.5 247.6L450.0 256.1Z"/>
<path fill="#00ee18" d="M381.1 239.0L390.5 229.6L399.9 239.0L390.5 248.5Z"/>
<path fill="#00ee18" d="M416.3 247.6L429.1 234.8L442.0 247.6L429.1 260.4Z"/>
<path fill="#00ee18" d="M447.1 333.4L457.8 322.7L468.5 333.4L457.8 344.1Z"/>
<path fill="#00ee18" d="M482.7 287.6L492.0 278.3L501.3 287.6L492.0 296.9Z"/>
<path fill="#00ee18" d="M499.8 355.8L511.8 343.8L523.8 355.8L511.8 367.8Z"/>
<path fill="#00ee18" d="M481.6 354.1L492.9 342.8L504.2 354.1L492.9 365.4Z"/>
<path fill="#00ee18" d="M522.0 248.3L534.0 236.3L546.0 248.3L534.0 260.4Z"/>
<path fill="#00ee18" d="M505.1 231.7L515.7 221.1L526.4 231.7L515.7 242.4Z"/>
<path fill="#00ee18" d="M536.2 316.2L548.0 304.4L559.9 316.2L548.0 328.1Z"/>
<path fill="#00ee18" d="M469.7 325.7L481.9 313.5L494.0 325.7L481.9 337.9Z"/>
<path fill="#00ee18" d="M503.5 237.9L513.5 227.9L523.5 237.9L513.5 247.9Z"/>
<path fill="#00ee18" d="M439.8 319.0L448.5 310.4L457.2 319.0L448.5 327.7Z"/>
<path fill="#00ee18" d="M436.6 278.9L448.3 267.1L460.1 278.9L448.3 290.6Z"/>
<path fill="#00ee18" d="M427.6 326.6L437.7 316.6L447.7 326.6L437.7 336.7Z"/>
<path fill="#00ee18" d="M432.5 356.8L444.2 345.2L455.8 356.8L444.2 368.5Z"/>
<path fill="#00ee18" d="M481.2 377.8L491.3 367.8L501.3 377.8L491.3 387.9Z"/>
<path fill="#00ee18" d="M411.2 228.1L422.2 217.2L433.2 228.1L422.2 239.1Z"/>
<path fill="#00ee18" d="M407.8 335.2L418.7 324.3L429.6 335.2L418.7 346.1Z"/>
<path fill="#00ee18" d="M425.3 320.0L434.0 311.4L442.6 320.0L434.0 328.6Z"/>
<path fill="#00ee18" d="M523.3 294.6L534.3 283.6L545.3 294.6L534.3 305.6Z"/>
<path fill="#00ee18" d="M466.7 245.5L476.2 236.0L485.8 245.5L476.2 255.1Z"/>
<path fill="#00ee18" d="M369.2 231.2L381.6 218.9L393.9 231.2L381.6 243.6Z"/>
<path fill="#00ee18" d="M359.8 222.0L369.5 212.3L379.2 222.0L369.5 231.7Z"/>
<path fill="#00ee18" d="M395.3 236.7L407.2 224.7L419.2 236.7L407.2 248.6Z"/>
<path fill="#00ee18" d="M429.8 360.9L440.2 350.5L450.5 360.9L440.2 371.3Z"/>
<path fill="#00ee18" d="M475.2 355.6L484.8 346.0L494.4 355.6L484.8 365.2Z"/>
<path fill="#00ee18" d="M383.5 226.4L392.5 217.4L401.5 226.4L392.5 235.4Z"/>
<path fill="#00ee18" d="M470.0 314.6L481.6 303.0L493.2 314.6L481.6 326.2Z"/>
<path fill="#00ee18" d="M545.9 299.9L558.5 287.3L571.0 299.9L558.5 312.5Z"/>
<path fill="#00ee18" d="M500.5 378.8L511.7 367.5L522.9 378.8L511.7 390.0Z"/>
<path fill="#00ee18" d="M416.3 308.7L428.8 296.2L441.3 308.7L428.8 321.2Z"/>
<path fill="#00ee18" d="M470.1 341.9L480.1 331.9L490.1 341.9L480.1 351.8Z"/>
<path fill="#00ee18" d="M505.4 280.5L514.1 271.9L522.7 280.5L514.1 289.1Z"/>
<path fill="#00ee18" d="M521.9 217.5L534.7 204.8L547.5 217.5L534.7 230.3Z"/>
<path fill="#00ee18" d="M509.9 226.4L522.8 213.6L535.6 226.4L522.8 239.2Z"/>
<path fill="#00ee18" d="M498.5 326.7L507.5 317.8L516.5 326.7L507.5 335.7Z"/>
<path fill="#00ee18" d="M516.4 310.1L528.9 297.7L541.4 310.1L528.9 322.6Z"/>
<path fill="#00ee18" d="M450.2 235.2L459.0 226.5L467.8 235.2L459.0 244.0Z"/>
<path fill="#00ee18" d="M418.2 270.9L429.6 259.5L441.0 270.9L429.6 282.3Z"/>
<path fill="#00ee18" d="M435.9 343.7L448.4 331.2L460.8 343.7L448.4 356.2Z"/>
<path fill="#00ee18" d="M477.8 269.4L487.2 260.0L496.6 269.4L487.2 278.7Z"/>
<path fill="#00ee18" d="M470.0 253.3L482.8 240.5L495.6 253.3L482.8 266.1Z"/>
<path fill="#00ee18" d="M503.1 273.7L513.7 263.1L524.3 273.7L513.7 284.3Z"/>
<path fill="#00ee18" d="M433.2 242.8L442.4 233.6L451.5 242.8L442.4 251.9Z"/>
<path fill="#00ee18" d="M440.7 366.7L450.8 356.6L460.9 366.7L450.8 376.7Z"/>
<path fill="#00ee18" d="M410.8 381.9L423.0 369.6L435.3 381.9L423.0 394.1Z"/>
<path fill="#00ee18" d="M543.6 321.5L554.0 311.1L564.4 321.5L554.0 331.9Z"/>
<path fill="#00ee18" d="M504.8 251.5L517.0 239.3L529.2 251.5L517.0 263.7Z"/>
<path fill="#00ee18" d="M542.7 268.7L553.5 257.8L564.4 268.7L553.5 279.5Z"/>
<path fill="#00ee18" d="M440.6 303.3L449.2 294.7L457.8 303.3L449.2 311.9Z"/>
<path fill="#00ee18" d="M526.0 263.6L536.2 253.4L546.4 263.6L536.2 273.8Z"/>
<path fill="#00ee18" d="M432.0 305.3L441.1 296.2L450.2 305.3L441.1 314.4Z"/>
<path fill="#00ee18" d="M511.2 266.4L522.2 255.4L533.1 266.4L522.2 277.4Z"/>
<path fill="#00ee18" d="M516.4 280.9L526.0 271.4L535.6 280.9L526.0 290.5Z"/>
<path fill="#00ee18" d="M409.8 297.8L418.4 289.2L427.1 297.8L418.4 306.5Z"/>
<path fill="#00ee18" d="M441.6 372.5L453.9 360.2L466.1 372.5L453.9 384.7Z"/>
<path fill="#00ee18" d="M570.7 274.4L580.1 265.0L589.4 274.4L580.1 283.8Z"/>
<path fill="#00ee18" d="M395.8 268.0L407.9 255.9L420.0 268.0L407.9 280.1Z"/>
<path fill="#d0d0d0" d="M265.8 200.0L272.8 193.0L279.8 200.0L272.8 207.0Z"/>
<path fill="#00ee18" d="M248.3 208.6L258.4 198.4L268.6 208.6L258.4 218.8Z"/>
<path fill="#f8ff20" d="M254.8 213.3L261.9 206.2L268.9 213.3L261.9 220.3Z"/>
<path fill="#d0d0d0" d="M284.5 220.3L291.6 213.3L298.6 220.3L291.6 227.3Z"/>
<path fill="#d0d0d0" d="M277.5 227.3L284.5 220.3L291.6 227.3L284.5 234.4Z"/>
<path fill="#00ee18" d="M377.5 119.5L385.0 112.0L392.5 119.5L385.0 127.0Z"/>
<path fill="#f8ff20" d="M414.7 120.6L422.2 113.1L429.7 120.6L422.2 128.1Z"/>
<path fill="#00ee18" d="M402.2 132.5L411.6 123.1L420.9 132.5L411.6 141.9Z"/>
<path fill="#d0d0d0" d="M402.7 155.0L408.1 149.5L413.6 155.0L408.1 160.5Z"/>
<path fill="#00ee18" d="M402.2 146.9L413.9 135.2L425.6 146.9L413.9 158.6Z"/>
<path fill="#00ee18" d="M447.0 136.2L454.5 128.8L462.0 136.2L454.5 143.8Z"/>
<path fill="#28f0ff" d="M449.1 173.4L453.8 168.8L458.4 173.4L453.8 178.1Z"/>
<path fill="#00ee18" d="M451.4 168.0L462.3 157.0L473.3 168.0L462.3 178.9Z"/>
<path fill="#f8ff20" d="M447.8 157.0L455.3 149.5L462.8 157.0L455.3 164.5Z"/>
<path fill="#00ee18" d="M437.3 176.9L446.7 167.5L456.1 176.9L446.7 186.2Z"/>
<path fill="#00ee18" d="M462.3 181.2L474.1 169.5L485.8 181.2L474.1 193.0Z"/>
<path fill="#f8ff20" d="M462.3 176.2L469.4 169.2L476.4 176.2L469.4 183.3Z"/>
<path fill="#00ee18" d="M449.8 185.2L457.7 177.3L465.5 185.2L457.7 193.0Z"/>
<path fill="#28f0ff" d="M476.4 193.0L479.5 189.8L482.7 193.0L479.5 196.1Z"/>
<path fill="#00ee18" d="M447.0 203.6L454.5 196.1L462.0 203.6L454.5 211.1Z"/>
<path fill="#00ee18" d="M467.3 213.3L476.4 204.2L485.5 213.3L476.4 222.3Z"/>
<path fill="#00ee18" d="M467.8 226.6L475.6 218.8L483.4 226.6L475.6 234.4Z"/>
<path fill="#00ee18" d="M301.2 167.9L310.4 158.7L319.6 167.9L310.4 177.1Z"/>
<path fill="#28f0ff" d="M327.2 178.1L333.4 171.9L339.7 178.1L333.4 184.4Z"/>
<path fill="#00ee18" d="M330.3 165.6L339.7 156.2L349.1 165.6L339.7 175.0Z"/>
<path fill="#00ee18" d="M323.3 185.9L335.0 174.2L346.7 185.9L335.0 197.7Z"/>
<path fill="#00ee18" d="M378.0 168.3L387.3 158.9L396.7 168.3L387.3 177.7Z"/>
<path fill="#00ee18" d="M365.8 177.0L373.3 169.5L380.8 177.0L373.3 184.5Z"/>
<path fill="#00ee18" d="M391.6 189.8L402.5 178.9L413.4 189.8L402.5 200.8Z"/>
<path fill="#f8ff20" d="M413.8 182.0L421.2 174.5L428.8 182.0L421.2 189.5Z"/>
<path fill="#00ee18" d="M405.6 204.4L414.7 195.3L423.8 204.4L414.7 213.4Z"/>
<path fill="#28f0ff" d="M338.1 194.5L345.2 187.5L352.2 194.5L345.2 201.6Z"/>
<path fill="#d0d0d0" d="M355.3 200.8L360.0 196.1L364.7 200.8L360.0 205.5Z"/>
<path fill="#00ee18" d="M345.2 196.1L353.0 188.3L360.8 196.1L353.0 203.9Z"/>
<path fill="#00ee18" d="M315.5 204.7L328.8 191.4L342.0 204.7L328.8 218.0Z"/>
<path fill="#00ee18" d="M310.8 214.1L324.1 200.8L337.3 214.1L324.1 227.3Z"/>
<path fill="#00ee18" d="M307.7 223.4L315.5 215.6L323.3 223.4L315.5 231.2Z"/>
<path fill="#28f0ff" d="M342.0 221.1L349.1 214.1L356.1 221.1L349.1 228.1Z"/>
<path fill="#00ee18" d="M332.2 225.0L339.7 217.5L347.2 225.0L339.7 232.5Z"/>
<path fill="#00ee18" d="M366.2 209.4L375.6 200.0L385.0 209.4L375.6 218.8Z"/>
<path fill="#00ee18" d="M355.3 214.8L367.0 203.1L378.8 214.8L367.0 226.6Z"/>
<path fill="#00ee18" d="M369.4 218.8L380.3 207.8L391.2 218.8L380.3 229.7Z"/>
<path fill="#00ee18" d="M388.9 214.1L395.9 207.0L403.0 214.1L395.9 221.1Z"/>
<path fill="#00ee18" d="M424.8 211.7L431.9 204.7L438.9 211.7L431.9 218.8Z"/>
<path fill="#00ee18" d="M408.4 215.6L417.8 206.2L427.2 215.6L417.8 225.0Z"/>
<path fill="#28f0ff" d="M364.7 235.9L372.5 228.1L380.3 235.9L372.5 243.8Z"/>
<path fill="#f8ff20" d="M363.4 229.4L370.9 221.9L378.4 229.4L370.9 236.9Z"/>
<path fill="#00ee18" d="M380.6 229.7L388.1 222.2L395.6 229.7L388.1 237.2Z"/>
<path fill="#00ee18" d="M319.7 237.5L327.2 230.0L334.7 237.5L327.2 245.0Z"/>
<path fill="#f8ff20" d="M308.4 236.7L315.5 229.7L322.5 236.7L315.5 243.8Z"/>
<path fill="#00ee18" d="M436.6 232.8L445.9 223.4L455.3 232.8L445.9 242.2Z"/>
<path fill="#28f0ff" d="M447.5 224.2L452.2 219.5L456.9 224.2L452.2 228.9Z"/>
<path fill="#00ee18" d="M449.1 231.2L460.0 220.3L470.9 231.2L460.0 242.2Z"/>
<path fill="#00ee18" d="M466.2 237.5L474.1 229.7L481.9 237.5L474.1 245.3Z"/>
<path fill="#f8ff20" d="M410.0 223.4L419.4 214.1L428.8 223.4L419.4 232.8Z"/>
<path fill="#f8ff20" d="M416.2 232.8L428.8 220.3L441.2 232.8L428.8 245.3Z"/>
<path fill="#f8ff20" d="M388.1 239.1L399.1 228.1L410.0 239.1L399.1 250.0Z"/>
<path fill="#f8ff20" d="M399.4 225.8L406.9 218.3L414.4 225.8L406.9 233.3Z"/>
<path fill="#d0d0d0" d="M524.8 123.9L532.3 116.4L539.8 123.9L532.3 131.4Z"/>
<path fill="#28f0ff" d="M511.9 145.0L519.4 137.5L526.9 145.0L519.4 152.5Z"/>
<path fill="#28f0ff" d="M495.5 176.1L504.5 167.0L513.6 176.1L504.5 185.2Z"/>
<path fill="#00ee18" d="M513.6 172.7L520.6 165.6L527.7 172.7L520.6 179.7Z"/>
<path fill="#00ee18" d="M518.3 180.5L530.0 168.8L541.7 180.5L530.0 192.2Z"/>
<path fill="#d0d0d0" d="M545.2 179.7L552.7 172.2L560.2 179.7L552.7 187.2Z"/>
<path fill="#00ee18" d="M578.1 180.0L589.1 169.1L600.0 180.0L589.1 190.9Z"/>
<path fill="#00ee18" d="M567.5 191.1L575.0 183.6L582.5 191.1L575.0 198.6Z"/>
<path fill="#28f0ff" d="M610.6 198.4L618.1 190.9L625.6 198.4L618.1 205.9Z"/>
<path fill="#00ee18" d="M475.3 181.2L481.6 175.0L487.8 181.2L481.6 187.5Z"/>
<path fill="#28f0ff" d="M474.5 192.2L481.6 185.2L488.6 192.2L481.6 199.2Z"/>
<path fill="#00ee18" d="M486.2 189.1L494.1 181.2L501.9 189.1L494.1 196.9Z"/>
<path fill="#f8ff20" d="M499.5 189.1L506.6 182.0L513.6 189.1L506.6 196.1Z"/>
<path fill="#00ee18" d="M531.6 193.8L537.8 187.5L544.1 193.8L537.8 200.0Z"/>
<path fill="#28f0ff" d="M510.0 198.4L520.9 187.5L531.9 198.4L520.9 209.4Z"/>
<path fill="#d0d0d0" d="M502.7 200.0L508.1 194.5L513.6 200.0L508.1 205.5Z"/>
<path fill="#d0d0d0" d="M503.4 207.8L510.5 200.8L517.5 207.8L510.5 214.8Z"/>
<path fill="#00ee18" d="M533.9 206.2L543.3 196.9L552.7 206.2L543.3 215.6Z"/>
<path fill="#00ee18" d="M523.8 206.2L530.8 199.2L537.8 206.2L530.8 213.3Z"/>
<path fill="#00ee18" d="M514.8 210.9L521.9 203.9L528.9 210.9L521.9 218.0Z"/>
<path fill="#00ee18" d="M478.4 204.7L489.4 193.8L500.3 204.7L489.4 215.6Z"/>
<path fill="#00ee18" d="M473.8 212.5L483.1 203.1L492.5 212.5L483.1 221.9Z"/>
<path fill="#00ee18" d="M487.8 215.6L497.2 206.2L506.6 215.6L497.2 225.0Z"/>
<path fill="#00ee18" d="M526.9 223.4L542.5 207.8L558.1 223.4L542.5 239.1Z"/>
<path fill="#00ee18" d="M551.9 220.3L558.9 213.3L565.9 220.3L558.9 227.3Z"/>
<path fill="#28f0ff" d="M514.4 228.1L521.4 221.1L528.4 228.1L521.4 235.2Z"/>
<path fill="#00ee18" d="M491.7 226.6L505.8 212.5L519.8 226.6L505.8 240.6Z"/>
<path fill="#00ee18" d="M475.3 226.6L483.1 218.8L490.9 226.6L483.1 234.4Z"/>
<path fill="#00ee18" d="M480.0 235.9L489.4 226.6L498.8 235.9L489.4 245.3Z"/>
<path fill="#28f0ff" d="M502.7 240.6L513.6 229.7L524.5 240.6L513.6 251.6Z"/>
<path fill="#00ee18" d="M523.8 237.5L533.1 228.1L542.5 237.5L533.1 246.9Z"/>
<path fill="#f8ff20" d="M579.2 228.1L586.2 221.1L593.3 228.1L586.2 235.2Z"/>
<path fill="#f8ff20" d="M587.5 232.0L594.1 225.5L600.6 232.0L594.1 238.6Z"/>
<path fill="#d0d0d0" d="M604.5 229.4L612.0 221.9L619.5 229.4L612.0 236.9Z"/>
<path fill="#d0d0d0" d="M564.7 241.4L572.2 233.9L579.7 241.4L572.2 248.9Z"/>
<path fill="#00ee18" d="M596.4 240.6L603.4 233.6L610.5 240.6L603.4 247.7Z"/>
<path fill="#f8ff20" d="M644.8 226.9L649.5 222.2L654.2 226.9L649.5 231.6Z"/>
<path fill="#28f0ff" d="M644.8 214.1L649.5 209.4L654.2 214.1L649.5 218.8Z"/>
<path fill="#00ee18" d="M322.5 242.8L327.2 238.1L331.9 242.8L327.2 247.5Z"/>
<path fill="#28f0ff" d="M335.8 257.6L346.7 246.7L357.7 257.6L346.7 268.6Z"/>
<path fill="#00ee18" d="M342.0 265.4L350.6 256.8L359.2 265.4L350.6 274.0Z"/>
<path fill="#00ee18" d="M331.9 267.0L343.6 255.3L355.3 267.0L343.6 278.7Z"/>
<path fill="#00ee18" d="M305.3 267.8L310.8 262.3L316.2 267.8L310.8 273.2Z"/>
<path fill="#00ee18" d="M306.1 275.6L310.0 271.7L313.9 275.6L310.0 279.5Z"/>
<path fill="#28f0ff" d="M318.6 278.2L326.1 270.8L333.6 278.2L326.1 285.8Z"/>
<path fill="#d0d0d0" d="M350.9 294.8L360.0 285.8L369.1 294.8L360.0 303.9Z"/>
<path fill="#00ee18" d="M361.6 297.5L368.6 290.4L375.6 297.5L368.6 304.5Z"/>
<path fill="#28f0ff" d="M369.7 290.4L377.2 282.9L384.7 290.4L377.2 297.9Z"/>
<path fill="#28f0ff" d="M382.7 293.6L388.9 287.3L395.2 293.6L388.9 299.8Z"/>
<path fill="#28f0ff" d="M306.1 311.5L315.5 302.2L324.8 311.5L315.5 320.9Z"/>
<path fill="#00ee18" d="M349.1 326.4L356.6 318.9L364.1 326.4L356.6 333.9Z"/>
<path fill="#d0d0d0" d="M303.8 348.2L310.8 341.2L317.8 348.2L310.8 355.3Z"/>
<path fill="#00ee18" d="M355.6 360.8L363.1 353.2L370.6 360.8L363.1 368.2Z"/>
<path fill="#f8ff20" d="M343.9 355.8L351.4 348.2L358.9 355.8L351.4 363.2Z"/>
<path fill="#28f0ff" d="M341.6 365.4L349.1 357.9L356.6 365.4L349.1 372.9Z"/>
<path fill="#28f0ff" d="M377.2 342.0L387.3 331.8L397.5 342.0L387.3 352.2Z"/>
<path fill="#28f0ff" d="M372.5 356.1L379.5 349.0L386.6 356.1L379.5 363.1Z"/>
<path fill="#00ee18" d="M374.8 350.6L382.7 342.8L390.5 350.6L382.7 358.4Z"/>
<path fill="#d0d0d0" d="M389.2 324.5L396.2 317.5L403.3 324.5L396.2 331.5Z"/>
<path fill="#f8ff20" d="M397.0 329.2L405.6 320.6L414.2 329.2L405.6 337.8Z"/>
<path fill="#28f0ff" d="M402.2 312.3L407.7 306.8L413.1 312.3L407.7 317.8Z"/>
<path fill="#28f0ff" d="M394.4 357.6L402.2 349.8L410.0 357.6L402.2 365.4Z"/>
<path fill="#28f0ff" d="M392.8 362.3L397.5 357.6L402.2 362.3L397.5 367.0Z"/>
<path fill="#00ee18" d="M394.4 346.7L403.8 337.3L413.1 346.7L403.8 356.1Z"/>
<path fill="#f8ff20" d="M376.4 368.6L383.4 361.5L390.5 368.6L383.4 375.6Z"/>
<path fill="#f8ff20" d="M409.2 364.7L416.2 357.6L423.3 364.7L416.2 371.7Z"/>
<path fill="#00ee18" d="M328.0 377.9L335.0 370.9L342.0 377.9L335.0 385.0Z"/>
<path fill="#00ee18" d="M338.1 382.6L345.9 374.8L353.8 382.6L345.9 390.4Z"/>
<path fill="#00ee18" d="M353.8 374.8L361.6 367.0L369.4 374.8L361.6 382.6Z"/>
<path fill="#00ee18" d="M363.1 379.5L372.5 370.1L381.9 379.5L372.5 388.9Z"/>
<path fill="#00ee18" d="M378.8 377.9L385.0 371.7L391.2 377.9L385.0 384.2Z"/>
<path fill="#00ee18" d="M389.7 379.5L397.5 371.7L405.3 379.5L397.5 387.3Z"/>
<path fill="#00ee18" d="M355.3 248.2L364.7 238.9L374.1 248.2L364.7 257.6Z"/>
<path fill="#00ee18" d="M355.3 245.1L361.6 238.9L367.8 245.1L361.6 251.4Z"/>
<path fill="#00ee18" d="M374.1 243.6L380.3 237.3L386.6 243.6L380.3 249.8Z"/>
<path fill="#00ee18" d="M392.8 284.2L400.6 276.4L408.4 284.2L400.6 292.0Z"/>
<path fill="#00ee18" d="M400.6 288.9L410.0 279.5L419.4 288.9L410.0 298.2Z"/>
<path fill="#00ee18" d="M413.1 287.3L419.4 281.1L425.6 287.3L419.4 293.6Z"/>
<path fill="#00ee18" d="M434.2 287.3L441.2 280.3L448.3 287.3L441.2 294.3Z"/>
<path fill="#00ee18" d="M427.2 279.5L435.0 271.7L442.8 279.5L435.0 287.3Z"/>
<path fill="#00ee18" d="M441.2 295.1L450.6 285.8L460.0 295.1L450.6 304.5Z"/>
<path fill="#00ee18" d="M453.8 301.4L463.1 292.0L472.5 301.4L463.1 310.8Z"/>
<path fill="#00ee18" d="M464.7 288.9L472.5 281.1L480.3 288.9L472.5 296.7Z"/>
<path fill="#00ee18" d="M460.0 281.1L466.2 274.8L472.5 281.1L466.2 287.3Z"/>
<path fill="#00ee18" d="M447.5 248.2L456.9 238.9L466.2 248.2L456.9 257.6Z"/>
<path fill="#00ee18" d="M461.6 254.5L472.5 243.6L483.4 254.5L472.5 265.4Z"/>
<path fill="#00ee18" d="M469.4 270.1L478.8 260.8L488.1 270.1L478.8 279.5Z"/>
<path fill="#00ee18" d="M403.8 304.5L413.1 295.1L422.5 304.5L413.1 313.9Z"/>
<path fill="#00ee18" d="M411.6 310.8L422.5 299.8L433.4 310.8L422.5 321.7Z"/>
<path fill="#00ee18" d="M422.5 315.4L435.0 302.9L447.5 315.4L435.0 327.9Z"/>
<path fill="#00ee18" d="M438.1 307.6L447.5 298.2L456.9 307.6L447.5 317.0Z"/>
<path fill="#00ee18" d="M447.5 315.4L458.4 304.5L469.4 315.4L458.4 326.4Z"/>
<path fill="#00ee18" d="M463.1 310.8L472.5 301.4L481.9 310.8L472.5 320.1Z"/>
<path fill="#00ee18" d="M411.6 324.8L419.4 317.0L427.2 324.8L419.4 332.6Z"/>
<path fill="#00ee18" d="M420.9 329.5L428.8 321.7L436.6 329.5L428.8 337.3Z"/>
<path fill="#00ee18" d="M441.2 329.5L450.6 320.1L460.0 329.5L450.6 338.9Z"/>
<path fill="#00ee18" d="M455.3 332.6L466.2 321.7L477.2 332.6L466.2 343.6Z"/>
<path fill="#00ee18" d="M467.8 323.2L475.6 315.4L483.4 323.2L475.6 331.1Z"/>
<path fill="#28f0ff" d="M435.0 352.9L442.8 345.1L450.6 352.9L442.8 360.8Z"/>
<path fill="#28f0ff" d="M453.8 357.6L463.1 348.2L472.5 357.6L463.1 367.0Z"/>
<path fill="#28f0ff" d="M447.5 365.4L453.8 359.2L460.0 365.4L453.8 371.7Z"/>
<path fill="#28f0ff" d="M465.5 351.4L469.4 347.5L473.3 351.4L469.4 355.3Z"/>
<path fill="#00ee18" d="M413.1 348.2L422.5 338.9L431.9 348.2L422.5 357.6Z"/>
<path fill="#00ee18" d="M425.6 342.0L433.4 334.2L441.2 342.0L433.4 349.8Z"/>
<path fill="#00ee18" d="M436.6 342.0L445.9 332.6L455.3 342.0L445.9 351.4Z"/>
<path fill="#00ee18" d="M449.1 348.2L456.9 340.4L464.7 348.2L456.9 356.1Z"/>
<path fill="#00ee18" d="M464.7 343.6L474.1 334.2L483.4 343.6L474.1 352.9Z"/>
<path fill="#00ee18" d="M411.6 357.6L419.4 349.8L427.2 357.6L419.4 365.4Z"/>
<path fill="#00ee18" d="M422.5 360.8L431.9 351.4L441.2 360.8L431.9 370.1Z"/>
<path fill="#00ee18" d="M435.0 367.0L442.8 359.2L450.6 367.0L442.8 374.8Z"/>
<path fill="#00ee18" d="M452.2 370.1L460.0 362.3L467.8 370.1L460.0 377.9Z"/>
<path fill="#00ee18" d="M463.1 367.0L472.5 357.6L481.9 367.0L472.5 376.4Z"/>
<path fill="#00ee18" d="M417.8 373.2L425.6 365.4L433.4 373.2L425.6 381.1Z"/>
<path fill="#00ee18" d="M428.8 379.5L438.1 370.1L447.5 379.5L438.1 388.9Z"/>
<path fill="#00ee18" d="M442.8 377.9L450.6 370.1L458.4 377.9L450.6 385.8Z"/>
<path fill="#00ee18" d="M408.4 379.5L416.2 371.7L424.1 379.5L416.2 387.3Z"/>
<path fill="#00ee18" d="M460.0 381.1L466.2 374.8L472.5 381.1L466.2 387.3Z"/>
<path fill="#f8ff20" d="M395.9 251.4L410.0 237.3L424.1 251.4L410.0 265.4Z"/>
<path fill="#f8ff20" d="M403.8 245.1L419.4 229.5L435.0 245.1L419.4 260.8Z"/>
<path fill="#f8ff20" d="M428.8 243.6L435.0 237.3L441.2 243.6L435.0 249.8Z"/>
<path fill="#f8ff20" d="M380.3 256.1L394.4 242.0L408.4 256.1L394.4 270.1Z"/>
<path fill="#f8ff20" d="M371.7 256.8L378.8 249.8L385.8 256.8L378.8 263.9Z"/>
<path fill="#f8ff20" d="M433.4 262.3L447.5 248.2L461.6 262.3L447.5 276.4Z"/>
<path fill="#f8ff20" d="M443.6 281.1L456.9 267.8L470.2 281.1L456.9 294.3Z"/>
<path fill="#f8ff20" d="M406.9 270.1L422.5 254.5L438.1 270.1L422.5 285.8Z"/>
<path fill="#f8ff20" d="M386.6 271.7L402.2 256.1L417.8 271.7L402.2 287.3Z"/>
<path fill="#f8ff20" d="M408.4 281.1L413.1 276.4L417.8 281.1L413.1 285.8Z"/>
<path fill="#f8ff20" d="M418.6 295.1L429.5 284.2L440.5 295.1L429.5 306.1Z"/>
<path fill="#d0d0d0" d="M564.7 242.8L572.2 235.3L579.7 242.8L572.2 250.3Z"/>
<path fill="#00ee18" d="M572.5 252.2L580.0 244.7L587.5 252.2L580.0 259.7Z"/>
<path fill="#00ee18" d="M596.4 242.8L603.4 235.8L610.5 242.8L603.4 249.8Z"/>
<path fill="#00ee18" d="M590.5 255.3L598.0 247.8L605.5 255.3L598.0 262.8Z"/>
<path fill="#28f0ff" d="M624.5 262.3L631.6 255.3L638.6 262.3L631.6 269.3Z"/>
<path fill="#00ee18" d="M630.8 254.5L640.2 245.1L649.5 254.5L640.2 263.9Z"/>
<path fill="#00ee18" d="M595.6 263.1L607.3 251.4L619.1 263.1L607.3 274.8Z"/>
<path fill="#00ee18" d="M608.9 267.8L620.6 256.1L632.3 267.8L620.6 279.5Z"/>
<path fill="#00ee18" d="M478.4 249.8L487.8 240.4L497.2 249.8L487.8 259.2Z"/>
<path fill="#00ee18" d="M490.9 254.5L500.3 245.1L509.7 254.5L500.3 263.9Z"/>
<path fill="#00ee18" d="M517.5 251.4L526.9 242.0L536.2 251.4L526.9 260.8Z"/>
<path fill="#00ee18" d="M534.7 248.2L542.5 240.4L550.3 248.2L542.5 256.1Z"/>
<path fill="#00ee18" d="M536.2 262.3L545.6 252.9L555.0 262.3L545.6 271.7Z"/>
<path fill="#00ee18" d="M481.6 267.0L489.4 259.2L497.2 267.0L489.4 274.8Z"/>
<path fill="#00ee18" d="M498.8 279.5L508.1 270.1L517.5 279.5L508.1 288.9Z"/>
<path fill="#00ee18" d="M536.2 281.1L545.6 271.7L555.0 281.1L545.6 290.4Z"/>
<path fill="#00ee18" d="M553.4 282.6L561.2 274.8L569.1 282.6L561.2 290.4Z"/>
<path fill="#00ee18" d="M478.4 307.6L489.4 296.7L500.3 307.6L489.4 318.6Z"/>
<path fill="#00ee18" d="M498.8 304.5L508.1 295.1L517.5 304.5L508.1 313.9Z"/>
<path fill="#00ee18" d="M517.5 301.4L526.9 292.0L536.2 301.4L526.9 310.8Z"/>
<path fill="#00ee18" d="M534.7 307.6L542.5 299.8L550.3 307.6L542.5 315.4Z"/>
<path fill="#00ee18" d="M481.6 323.2L489.4 315.4L497.2 323.2L489.4 331.1Z"/>
<path fill="#00ee18" d="M522.2 315.4L530.0 307.6L537.8 315.4L530.0 323.2Z"/>
<path fill="#00ee18" d="M538.6 323.2L545.6 316.2L552.7 323.2L545.6 330.3Z"/>
<path fill="#00ee18" d="M486.2 338.9L495.6 329.5L505.0 338.9L495.6 348.2Z"/>
<path fill="#00ee18" d="M536.2 334.2L542.5 327.9L548.8 334.2L542.5 340.4Z"/>
<path fill="#00ee18" d="M481.6 354.5L489.4 346.7L497.2 354.5L489.4 362.3Z"/>
<path fill="#00ee18" d="M480.0 342.0L486.2 335.8L492.5 342.0L486.2 348.2Z"/>
<path fill="#00ee18" d="M500.3 360.8L508.1 352.9L515.9 360.8L508.1 368.6Z"/>
<path fill="#00ee18" d="M489.4 373.2L498.8 363.9L508.1 373.2L498.8 382.6Z"/>
<path fill="#00ee18" d="M478.4 379.5L486.2 371.7L494.1 379.5L486.2 387.3Z"/>
<path fill="#00ee18" d="M503.4 377.9L511.2 370.1L519.1 377.9L511.2 385.8Z"/>
<path fill="#28f0ff" d="M504.2 243.6L513.6 234.2L523.0 243.6L513.6 252.9Z"/>
<path fill="#00ee18" d="M553.4 262.3L562.8 252.9L572.2 262.3L562.8 271.7Z"/>
<path fill="#00ee18" d="M573.0 277.9L586.2 264.7L599.5 277.9L586.2 291.2Z"/>
<path fill="#28f0ff" d="M558.1 295.9L565.9 288.1L573.8 295.9L565.9 303.7Z"/>
<path fill="#00ee18" d="M550.3 302.9L557.3 295.9L564.4 302.9L557.3 310.0Z"/>
<path fill="#00ee18" d="M555.8 310.8L565.2 301.4L574.5 310.8L565.2 320.1Z"/>
<path fill="#00ee18" d="M570.6 311.5L577.7 304.5L584.7 311.5L577.7 318.6Z"/>
<path fill="#28f0ff" d="M591.7 309.2L601.1 299.8L610.5 309.2L601.1 318.6Z"/>
<path fill="#00ee18" d="M551.1 317.0L558.1 310.0L565.2 317.0L558.1 324.0Z"/>
<path fill="#28f0ff" d="M558.9 327.2L565.2 320.9L571.4 327.2L565.2 333.4Z"/>
<path fill="#00ee18" d="M567.5 331.8L575.3 324.0L583.1 331.8L575.3 339.7Z"/>
<path fill="#00ee18" d="M559.7 337.3L569.1 327.9L578.4 337.3L569.1 346.7Z"/>
<path fill="#00ee18" d="M546.4 331.1L553.4 324.0L560.5 331.1L553.4 338.1Z"/>
<path fill="#00ee18" d="M550.2 352.6L557.7 345.1L565.2 352.6L557.7 360.1Z"/>
<path fill="#00ee18" d="M569.4 361.5L576.9 354.0L584.4 361.5L576.9 369.0Z"/>
<path fill="#f8ff20" d="M578.4 367.8L585.5 360.8L592.5 367.8L585.5 374.8Z"/>
<path fill="#d0d0d0" d="M631.6 381.1L639.1 373.6L646.6 381.1L639.1 388.6Z"/>
<path fill="#00ee18" d="M569.8 383.4L576.9 376.4L583.9 383.4L576.9 390.4Z"/>
<path fill="#f8ff20" d="M511.2 259.2L517.5 252.9L523.8 259.2L517.5 265.4Z"/>
<path fill="#f8ff20" d="M512.0 265.4L523.8 253.7L535.5 265.4L523.8 277.2Z"/>
<path fill="#f8ff20" d="M494.8 273.2L501.1 267.0L507.3 273.2L501.1 279.5Z"/>
<path fill="#28f0ff" d="M516.7 338.9L525.3 330.3L533.9 338.9L525.3 347.5Z"/>
<path fill="#28f0ff" d="M510.5 345.1L515.2 340.4L519.8 345.1L515.2 349.8Z"/>
<path fill="#28f0ff" d="M514.4 365.4L519.1 360.8L523.8 365.4L519.1 370.1Z"/>
<path fill="#f8ff20" d="M494.1 351.4L501.1 344.3L508.1 351.4L501.1 358.4Z"/>
<path fill="#f8ff20" d="M513.1 352.9L523.8 342.3L534.4 352.9L523.8 363.6Z"/>
<path fill="#f8ff20" d="M269.2 315.6L276.7 308.1L284.2 315.6L276.7 323.1Z"/>
<path fill="#d0d0d0" d="M250.9 325.5L258.4 318.0L265.9 325.5L258.4 333.0Z"/>
<path fill="#28f0ff" d="M262.3 326.6L269.4 319.5L276.4 326.6L269.4 333.6Z"/>
<path fill="#d0d0d0" d="M302.0 348.4L309.5 340.9L317.0 348.4L309.5 355.9Z"/>
<path fill="#00ee18" d="M148.9 339.1L156.4 331.6L163.9 339.1L156.4 346.6Z"/>
<path fill="#28f0ff" d="M163.4 345.3L170.9 337.8L178.4 345.3L170.9 352.8Z"/>
<path fill="#28f0ff" d="M203.6 347.7L211.1 340.2L218.6 347.7L211.1 355.2Z"/>
<path fill="#d0d0d0" d="M164.1 378.1L171.6 370.6L179.1 378.1L171.6 385.6Z"/>
<path fill="#d0d0d0" d="M172.3 393.4L179.8 385.9L187.3 393.4L179.8 400.9Z"/>
<path fill="#28f0ff" d="M158.0 390.3L167.3 380.9L176.7 390.3L167.3 399.7Z"/>
<path fill="#28f0ff" d="M150.2 401.2L157.2 394.2L164.2 401.2L157.2 408.3Z"/>
<path fill="#d0d0d0" d="M189.2 408.6L198.6 399.2L208.0 408.6L198.6 418.0Z"/>
<path fill="#00ee18" d="M179.1 407.0L186.1 400.0L193.1 407.0L186.1 414.1Z"/>
<path fill="#d0d0d0" d="M179.4 420.3L186.9 412.8L194.4 420.3L186.9 427.8Z"/>
<path fill="#28f0ff" d="M212.5 394.5L220.0 387.0L227.5 394.5L220.0 402.0Z"/>
<path fill="#28f0ff" d="M231.7 405.5L240.8 396.4L249.8 405.5L240.8 414.5Z"/>
<path fill="#28f0ff" d="M230.2 396.9L237.7 389.4L245.2 396.9L237.7 404.4Z"/>
<path fill="#d0d0d0" d="M210.3 410.9L217.8 403.4L225.3 410.9L217.8 418.4Z"/>
<path fill="#d0d0d0" d="M249.4 403.9L255.6 397.7L261.9 403.9L255.6 410.2Z"/>
<path fill="#00ee18" d="M218.1 432.0L227.5 422.7L236.9 432.0L227.5 441.4Z"/>
<path fill="#d0d0d0" d="M237.5 426.2L245.0 418.8L252.5 426.2L245.0 433.8Z"/>
<path fill="#d0d0d0" d="M259.1 428.9L266.6 421.4L274.1 428.9L266.6 436.4Z"/>
<path fill="#00ee18" d="M234.1 371.4L241.6 363.9L249.1 371.4L241.6 378.9Z"/>
<path fill="#28f0ff" d="M245.5 376.6L249.4 372.7L253.3 376.6L249.4 380.5Z"/>
<path fill="#28f0ff" d="M244.7 384.4L250.9 378.1L257.2 384.4L250.9 390.6Z"/>
<path fill="#28f0ff" d="M271.2 368.8L277.5 362.5L283.8 368.8L277.5 375.0Z"/>
<path fill="#28f0ff" d="M283.8 370.3L294.7 359.4L305.6 370.3L294.7 381.2Z"/>
<path fill="#28f0ff" d="M297.8 387.5L305.6 379.7L313.4 387.5L305.6 395.3Z"/>
<path fill="#28f0ff" d="M269.7 407.8L277.5 400.0L285.3 407.8L277.5 415.6Z"/>
<path fill="#28f0ff" d="M292.3 407.8L299.4 400.8L306.4 407.8L299.4 414.8Z"/>
<path fill="#28f0ff" d="M284.5 420.3L294.7 410.2L304.8 420.3L294.7 430.5Z"/>
<path fill="#28f0ff" d="M297.8 425.0L307.2 415.6L316.6 425.0L307.2 434.4Z"/>
<path fill="#00ee18" d="M258.8 365.6L266.6 357.8L274.4 365.6L266.6 373.4Z"/>
<path fill="#00ee18" d="M265.0 362.5L271.2 356.2L277.5 362.5L271.2 368.8Z"/>
<path fill="#00ee18" d="M255.6 370.3L263.4 362.5L271.2 370.3L263.4 378.1Z"/>
<path fill="#00ee18" d="M250.9 375.0L258.8 367.2L266.6 375.0L258.8 382.8Z"/>
<path fill="#00ee18" d="M265.0 373.4L272.8 365.6L280.6 373.4L272.8 381.2Z"/>
<path fill="#00ee18" d="M247.8 381.2L254.1 375.0L260.3 381.2L254.1 387.5Z"/>
<path fill="#00ee18" d="M252.5 400.0L261.9 390.6L271.2 400.0L261.9 409.4Z"/>
<path fill="#00ee18" d="M268.1 396.9L282.2 382.8L296.2 396.9L282.2 410.9Z"/>
<path fill="#00ee18" d="M275.9 403.9L283.0 396.9L290.0 403.9L283.0 410.9Z"/>
<path fill="#00ee18" d="M287.7 392.2L294.7 385.2L301.7 392.2L294.7 399.2Z"/>
<path fill="#00ee18" d="M294.7 396.9L302.5 389.1L310.3 396.9L302.5 404.7Z"/>
<path fill="#00ee18" d="M304.1 403.1L308.8 398.4L313.4 403.1L308.8 407.8Z"/>
<path fill="#00ee18" d="M267.3 423.4L273.6 417.2L279.8 423.4L273.6 429.7Z"/>
<path fill="#f8ff20" d="M255.6 390.6L264.2 382.0L272.8 390.6L264.2 399.2Z"/>
<path fill="#f8ff20" d="M271.2 417.2L279.8 408.6L288.4 417.2L279.8 425.8Z"/>
<path fill="#28f0ff" d="M464.7 403.2L474.1 393.8L483.4 403.2L474.1 412.6Z"/>
<path fill="#00ee18" d="M439.7 397.6L447.2 390.1L454.7 397.6L447.2 405.1Z"/>
<path fill="#28f0ff" d="M402.0 444.9L409.5 437.4L417.0 444.9L409.5 452.4Z"/>
<path fill="#28f0ff" d="M380.6 464.5L391.6 453.5L402.5 464.5L391.6 475.4Z"/>
<path fill="#28f0ff" d="M329.8 468.4L339.2 459.0L348.6 468.4L339.2 477.8Z"/>
<path fill="#28f0ff" d="M373.6 489.5L381.1 482.0L388.6 489.5L381.1 497.0Z"/>
<path fill="#28f0ff" d="M310.6 501.5L318.1 494.0L325.6 501.5L318.1 509.0Z"/>
<path fill="#d0d0d0" d="M317.0 426.2L325.6 417.6L334.2 426.2L325.6 434.8Z"/>
<path fill="#28f0ff" d="M295.9 426.2L310.0 412.1L324.1 426.2L310.0 440.2Z"/>
<path fill="#28f0ff" d="M390.8 429.3L401.4 418.7L412.0 429.3L401.4 439.9Z"/>
<path fill="#28f0ff" d="M402.2 410.6L413.1 399.6L424.1 410.6L413.1 421.5Z"/>
<path fill="#28f0ff" d="M368.9 427.0L379.5 416.3L390.2 427.0L379.5 437.6Z"/>
<path fill="#28f0ff" d="M362.0 427.0L369.1 419.9L376.1 427.0L369.1 434.0Z"/>
<path fill="#28f0ff" d="M337.7 430.9L346.7 421.8L355.8 430.9L346.7 439.9Z"/>
<path fill="#28f0ff" d="M329.5 421.5L338.9 412.1L348.3 421.5L338.9 430.9Z"/>
<path fill="#28f0ff" d="M321.7 417.6L328.8 410.6L335.8 417.6L328.8 424.6Z"/>
<path fill="#28f0ff" d="M360.0 419.2L367.8 411.3L375.6 419.2L367.8 427.0Z"/>
<path fill="#00ee18" d="M307.7 409.0L319.4 397.3L331.1 409.0L319.4 420.7Z"/>
<path fill="#00ee18" d="M326.4 396.5L338.1 384.8L349.8 396.5L338.1 408.2Z"/>
<path fill="#00ee18" d="M339.7 404.3L349.1 394.9L358.4 404.3L349.1 413.7Z"/>
<path fill="#00ee18" d="M320.9 399.6L328.8 391.8L336.6 399.6L328.8 407.4Z"/>
<path fill="#00ee18" d="M353.8 398.1L366.2 385.6L378.8 398.1L366.2 410.6Z"/>
<path fill="#00ee18" d="M353.8 409.0L361.6 401.2L369.4 409.0L361.6 416.8Z"/>
<path fill="#00ee18" d="M367.8 410.6L378.8 399.6L389.7 410.6L378.8 421.5Z"/>
<path fill="#00ee18" d="M381.9 418.4L391.2 409.0L400.6 418.4L391.2 427.8Z"/>
<path fill="#00ee18" d="M386.6 405.9L397.5 394.9L408.4 405.9L397.5 416.8Z"/>
<path fill="#00ee18" d="M395.2 394.9L406.9 383.2L418.6 394.9L406.9 406.7Z"/>
<path fill="#00ee18" d="M410.0 393.4L419.4 384.0L428.8 393.4L419.4 402.8Z"/>
<path fill="#00ee18" d="M422.5 388.7L430.3 380.9L438.1 388.7L430.3 396.5Z"/>
<path fill="#00ee18" d="M433.4 384.0L439.7 377.8L445.9 384.0L439.7 390.2Z"/>
<path fill="#00ee18" d="M375.6 393.4L385.0 384.0L394.4 393.4L385.0 402.8Z"/>
<path fill="#00ee18" d="M306.9 393.4L316.2 384.0L325.6 393.4L316.2 402.8Z"/>
<path fill="#00ee18" d="M339.7 388.7L349.1 379.3L358.4 388.7L349.1 398.1Z"/>
<path fill="#00ee18" d="M389.7 388.7L397.5 380.9L405.3 388.7L397.5 396.5Z"/>
<path fill="#00ee18" d="M550.2 352.6L557.7 345.1L565.2 352.6L557.7 360.1Z"/>
<path fill="#00ee18" d="M562.5 342.0L568.8 335.8L575.0 342.0L568.8 348.2Z"/>
<path fill="#00ee18" d="M569.4 361.2L576.9 353.7L584.4 361.2L576.9 368.7Z"/>
<path fill="#f8ff20" d="M578.4 367.8L585.5 360.8L592.5 367.8L585.5 374.8Z"/>
<path fill="#00ee18" d="M569.4 384.2L576.9 376.7L584.4 384.2L576.9 391.7Z"/>
<path fill="#28f0ff" d="M582.7 414.7L590.2 407.2L597.7 414.7L590.2 422.2Z"/>
<path fill="#d0d0d0" d="M487.0 421.7L494.5 414.2L502.0 421.7L494.5 429.2Z"/>
<path fill="#d0d0d0" d="M510.0 412.0L516.2 405.8L522.5 412.0L516.2 418.2Z"/>
<path fill="#00ee18" d="M507.3 406.1L513.6 399.8L519.8 406.1L513.6 412.3Z"/>
<path fill="#00ee18" d="M476.9 360.8L489.4 348.2L501.9 360.8L489.4 373.2Z"/>
<path fill="#00ee18" d="M497.2 367.0L506.6 357.6L515.9 367.0L506.6 376.4Z"/>
<path fill="#00ee18" d="M486.2 380.3L494.8 371.7L503.4 380.3L494.8 388.9Z"/>
<path fill="#00ee18" d="M505.8 377.2L513.6 369.3L521.4 377.2L513.6 385.0Z"/>
<path fill="#00ee18" d="M475.3 379.5L483.1 371.7L490.9 379.5L483.1 387.3Z"/>
<path fill="#00ee18" d="M496.4 384.2L503.4 377.2L510.5 384.2L503.4 391.2Z"/>
<path fill="#00ee18" d="M481.6 388.9L487.8 382.6L494.1 388.9L487.8 395.1Z"/>
<path fill="#00ee18" d="M483.9 396.7L499.5 381.1L515.2 396.7L499.5 412.3Z"/>
<path fill="#00ee18" d="M525.3 424.0L532.3 417.0L539.4 424.0L532.3 431.1Z"/>
<path fill="#d0d0d0" d="M539.4 436.5L545.6 430.3L551.9 436.5L545.6 442.8Z"/>
<path fill="#00ee18" d="M526.1 427.2L533.1 420.1L540.2 427.2L533.1 434.2Z"/>
<path fill="#28f0ff" d="M532.0 435.4L539.1 428.4L546.1 435.4L539.1 442.5Z"/>
<path fill="#28f0ff" d="M536.6 459.5L544.1 452.0L551.6 459.5L544.1 467.0Z"/>
<path fill="#28f0ff" d="M515.2 365.4L519.1 361.5L523.0 365.4L519.1 369.3Z"/>
<path fill="#00ee18" d="M658.8 182.0L666.2 174.5L673.8 182.0L666.2 189.5Z"/>
<path fill="#28f0ff" d="M645.8 213.0L653.8 205.0L661.8 213.0L653.8 221.0Z"/>
<path fill="#f8ff20" d="M645.0 227.0L652.5 219.5L660.0 227.0L652.5 234.5Z"/>
<path fill="#f8ff20" d="M667.2 289.2L674.8 281.8L682.2 289.2L674.8 296.8Z"/>
<path fill="#28f0ff" d="M693.8 313.2L703.2 303.8L712.8 313.2L703.2 322.8Z"/>
<path fill="#28f0ff" d="M255.5 240.6L262.5 233.6L269.5 240.6L262.5 247.7Z"/>
<path fill="#d0d0d0" d="M285.6 246.1L292.7 239.1L299.7 246.1L292.7 253.1Z"/>
<path fill="#00ee18" d="M299.7 243.0L306.7 235.9L313.8 243.0L306.7 250.0Z"/>
<path fill="#00ee18" d="M301.2 268.0L308.3 260.9L315.3 268.0L308.3 275.0Z"/>
<path fill="#28f0ff" d="M280.2 277.3L288.8 268.8L297.3 277.3L288.8 285.9Z"/>
<path fill="#00ee18" d="M288.0 275.0L300.5 262.5L313.0 275.0L300.5 287.5Z"/>
<path fill="#00ee18" d="M266.1 283.9L273.1 276.9L280.2 283.9L273.1 290.9Z"/>
<path fill="#d0d0d0" d="M625.0 506.8L632.5 499.2L640.0 506.8L632.5 514.2Z"/>
<path fill="#d0d0d0" d="M245.5 447.5L253.0 440.0L260.5 447.5L253.0 455.0Z"/>
<path fill="#d0d0d0" d="M266.0 451.2L273.5 443.8L281.0 451.2L273.5 458.8Z"/>
<path fill="#d0d0d0" d="M90.6 666.2L98.4 658.4L106.2 666.2L98.4 674.1Z"/>
<path fill="#00ee18" d="M879.9 201.8L887.1 194.6L894.3 201.8L887.1 208.9Z"/>
<path fill="#d0d0d0" d="M507.0 83.9L514.5 76.4L522.0 83.9L514.5 91.4Z"/>
<path fill="#ff8000" d="M406.9 235.6L413.9 228.6L420.9 235.6L413.9 242.7Z"/>
<path fill="#0000d8" d="M257.2 378.9L264.2 371.9L271.2 378.9L264.2 385.9Z"/>
</g>
<path d="M418.8 250.6L422.1 260.7L432.7 260.7L424.1 266.9L427.4 277.0L418.8 270.8L410.2 277.0L413.5 266.9L404.9 260.7L415.5 260.7Z" fill="#f8ff20" stroke="#000" stroke-width="1"/>
<rect x="307.6" y="166.1" width="7.2" height="7.2"/>
<rect x="326.6" y="200.9" width="7.2" height="7.2"/>
<rect x="391.4" y="214.6" width="7.2" height="7.2"/>
<rect x="480.6" y="183.6" width="7.2" height="7.2"/>
<rect x="641.6" y="63.4" width="7.2" height="7.2"/>
<rect x="721.1" y="182.8" width="7.2" height="7.2"/>
<rect x="787.4" y="180.3" width="7.2" height="7.2"/>
<rect x="883.5" y="196.6" width="7.2" height="7.2"/>
<rect x="205.1" y="347.9" width="7.2" height="7.2"/>
<rect x="254.4" y="203.9" width="7.2" height="7.2"/>
<rect x="271.9" y="226.1" width="7.2" height="7.2"/>
<rect x="266.4" y="322.2" width="7.2" height="7.2"/>
<rect x="540.8" y="219.4" width="7.2" height="7.2"/>
<rect x="618.6" y="210.8" width="7.2" height="7.2"/>
<rect x="359.2" y="293.1" width="7.2" height="7.2"/>
<rect x="400.1" y="365.7" width="7.2" height="7.2"/>
<rect x="438.4" y="324.6" width="7.2" height="7.2"/>
<rect x="526.4" y="279.3" width="7.2" height="7.2"/>
<rect x="494.8" y="282.9" width="7.2" height="7.2"/>
<rect x="485.8" y="287.1" width="7.2" height="7.2"/>
<rect x="503.0" y="287.6" width="7.2" height="7.2"/>
<rect x="466.6" y="293.1" width="7.2" height="7.2"/>
<rect x="502.2" y="318.1" width="7.2" height="7.2"/>
<rect x="468.1" y="320.4" width="7.2" height="7.2"/>
<rect x="483.4" y="361.1" width="7.2" height="7.2"/>
<rect x="152.0" y="399.2" width="7.2" height="7.2"/>
<rect x="260.6" y="375.3" width="7.2" height="7.2"/>
<rect x="269.2" y="430.0" width="7.2" height="7.2"/>
<rect x="190.6" y="436.4" width="7.2" height="7.2"/>
<rect x="366.1" y="402.3" width="7.2" height="7.2"/>
<rect x="496.2" y="388.9" width="7.2" height="7.2"/>
<rect x="594.7" y="475.6" width="7.2" height="7.2"/>
<rect x="631.1" y="472.4" width="7.2" height="7.2"/>
<rect x="613.4" y="552.1" width="7.2" height="7.2"/>
<rect x="607.8" y="617.4" width="7.2" height="7.2"/>
<rect x="412.6" y="536.9" width="7.2" height="7.2"/>
<rect x="87.6" y="634.5" width="7.2" height="7.2"/>
<rect x="675.4" y="646.4" width="7.2" height="7.2"/>
<rect x="551.7" y="672.0" width="7.2" height="7.2"/>
<rect x="913.2" y="287.4" width="7.2" height="7.2"/>
<rect x="951.4" y="306.8" width="7.2" height="7.2"/>
<rect x="994.2" y="375.0" width="7.2" height="7.2"/>
<rect x="836.7" y="558.4" width="7.2" height="7.2"/>
<rect x="821.8" y="701.7" width="7.2" height="7.2"/>
<text class="c" x="319.2" y="175.0">AMSTERDAM</text>
<text class="c" x="338.2" y="209.8">Utrecht</text>
<text class="c" x="403.0" y="223.5">Arnhem</text>
<text class="c" x="492.2" y="192.5">Enschede</text>
<text class="c" x="653.2" y="72.3">Bremen</text>
<text class="c" x="732.7" y="190.9">Hannover</text>
<text class="c" x="799.0" y="190.2">Braunschweig</text>
<text class="c" x="895.1" y="206.3">Magdeburg</text>
<text class="c" x="216.7" y="356.8">Gent</text>
<text class="c" x="263.7" y="212.8">'s–Gravenhage</text>
<text class="c" x="283.5" y="235.0">Rotterdam</text>
<text class="c" x="278.0" y="331.1">Antwerpen</text>
<text class="c" x="550.7" y="228.3">Münster (Westf.)</text>
<text class="c" x="630.2" y="219.7">Bielefeld</text>
<text class="c" x="370.8" y="302.0">Eindhoven</text>
<text class="c" x="411.7" y="374.6">Heerlen/Kerkrade</text>
<text class="c" x="448.3" y="333.5">Mönchengladbach</text>
<text class="c" x="538.0" y="288.2">Dortmund</text>
<text class="c" x="506.4" y="291.8">Gelsenkirchen</text>
<text class="c" x="497.4" y="296.0">Essen</text>
<text class="c" x="514.6" y="296.5">Bochum</text>
<text class="c" x="476.5" y="302.0">Duisburg</text>
<text class="c" x="513.8" y="327.0">Wuppertal</text>
<text class="c" x="478.5" y="329.3">Düsseldorf</text>
<text class="c" x="493.3" y="370.0">Köln</text>
<text class="c" x="163.6" y="408.1">Lille</text>
<text class="c" x="272.2" y="384.2">BRUXELLES (BRUSSEL)</text>
<text class="c" x="280.8" y="438.9">Charleroi</text>
<text class="c" x="202.2" y="445.3">Valenciennes</text>
<text class="c" x="377.7" y="411.2">Liege</text>
<text class="c" x="507.8" y="397.8">Bonn</text>
<text class="c" x="606.3" y="484.5">Wiesbaden</text>
<text class="c" x="642.7" y="481.3">Frankfurt am Main</text>
<text class="c" x="625.0" y="561.0">Mannheim</text>
<text class="c" x="619.4" y="626.3">Karlsruhe</text>
<text class="c" x="424.2" y="545.8">LUXEMBOURG–VILLE</text>
<text class="c" x="99.2" y="643.4">PARIS</text>
<text class="c" x="687.0" y="655.3">Stuttgart</text>
<text class="c" x="563.3" y="680.9">Strasbourg</text>
<text class="c" x="924.8" y="296.3">Halle</text>
<text class="c" x="963.0" y="315.7">Leipzig</text>
<text class="c" x="1005.8" y="383.9">Chemnitz</text>
<text class="c" x="848.3" y="567.3">Nürnberg</text>
<text class="c" x="832.8" y="711.6">Augsburg</text>
<text x="434.5" y="273" style="font-size:16.3px">GOCH (DE) : ML4.3</text>
</g>
<g>
<rect x="1.2" y="0.6" width="1024" height="741.8" fill="none" stroke="#000" stroke-width="1.2"/>
<rect x="13.2" y="12.1" width="999.8" height="718.3" fill="none" stroke="#000" stroke-width="1.2"/>
<path d="M13.2 0.6V12.1M1013 0.6V12.1M13.2 730.4V742.4M1013 730.4V742.4M1.2 12.1H13.2M1.2 730.4H13.2M1013 12.1H1025.2M1013 730.4H1025.2" stroke="#000" stroke-width="1.2"/>
<rect x="13.2" y="0.8" width="307.3" height="11.4"/><rect x="748.5" y="0.8" width="264.5" height="11.4"/>
<rect x="13.2" y="730.2" width="307.3" height="12.2"/><rect x="748.5" y="730.2" width="264.5" height="12.2"/>
<rect x="1.2" y="148.8" width="12" height="341.7"/><rect x="1013" y="148.8" width="12.2" height="341.7"/>
</g>
<rect x="13.2" y="706.3" width="307.3" height="36.1"/>
<text x="20" y="724.7" style="font-size:16.5px;fill:#fff">© Collaborative project of ROB and BNS</text>
<text class="ax" x="311.5" y="769">5<tspan dx="1" dy="-5" style="font-size:13px">°</tspan></text>
<text class="ax" x="734.5" y="769">10<tspan dx="1" dy="-5" style="font-size:13px">°</tspan></text>
<text class="ax" x="1036.5" y="156">52<tspan dx="1" dy="-5" style="font-size:13px">°</tspan><tspan dx="1" dy="5">30'</tspan></text>
<text class="ax" x="1036.5" y="497">50<tspan dx="1" dy="-5" style="font-size:13px">°</tspan><tspan dx="1" dy="5">00'</tspan></text>
<rect x="306" y="790" width="46.5" height="29" fill="#d0d0d0"/>
<rect x="352" y="790" width="46.5" height="29" fill="#28f5fc"/>
<rect x="398" y="790" width="46.5" height="29" fill="#00f01a"/>
<rect x="444" y="790" width="46.5" height="29" fill="#f8ff1f"/>
<rect x="490" y="790" width="46.5" height="29" fill="#ff8000"/>
<rect x="536" y="790" width="46.5" height="29" fill="#f80010"/>
<rect x="582" y="790" width="46.5" height="29" fill="#0050ff"/>
<rect x="628" y="790" width="46.5" height="29" fill="#0000e0"/>
<rect x="674" y="790" width="46.5" height="29" fill="#800080"/>
<path d="M306 789.8L291.5 804.5L306 819.2Z" fill="#fff" stroke="#000" stroke-width="3"/>
<path d="M720 789.8L734.5 804.5L720 819.2Z" fill="#333" stroke="#000" stroke-width="3"/>
<rect x="306" y="789.8" width="414" height="29.4" fill="none" stroke="#000" stroke-width="3"/>
<path d="M329 820V831.5M375 820V831.5M421 820V831.5M467 820V831.5M513 820V831.5M559 820V831.5M605 820V831.5M651 820V831.5M697 820V831.5" stroke="#000" stroke-width="1.6"/>
<text class="ax" text-anchor="middle" x="329" y="857" style="font-size:17.5px">1</text>
<text class="ax" text-anchor="middle" x="375" y="857" style="font-size:17.5px">2</text>
<text class="ax" text-anchor="middle" x="421" y="857" style="font-size:17.5px">3</text>
<text class="ax" text-anchor="middle" x="467" y="857" style="font-size:17.5px">4</text>
<text class="ax" text-anchor="middle" x="513" y="857" style="font-size:17.5px">5</text>
<text class="ax" text-anchor="middle" x="559" y="857" style="font-size:17.5px">6</text>
<text class="ax" text-anchor="middle" x="605" y="857" style="font-size:17.5px">7</text>
<text class="ax" text-anchor="middle" x="651" y="857" style="font-size:17.5px">8</text>
<text class="ax" text-anchor="middle" x="697" y="857" style="font-size:17.5px">9</text>
<text text-anchor="middle" x="512.5" y="905" style="font-size:25px">Community Internet Intensity (CII)</text>
<path d="M767.5 816V805H1011V816" fill="none" stroke="#000" stroke-width="1.4"/>
<text class="ax" text-anchor="middle" x="889" y="840" style="font-size:17.5px">200 km</text>
</svg></body></html>
